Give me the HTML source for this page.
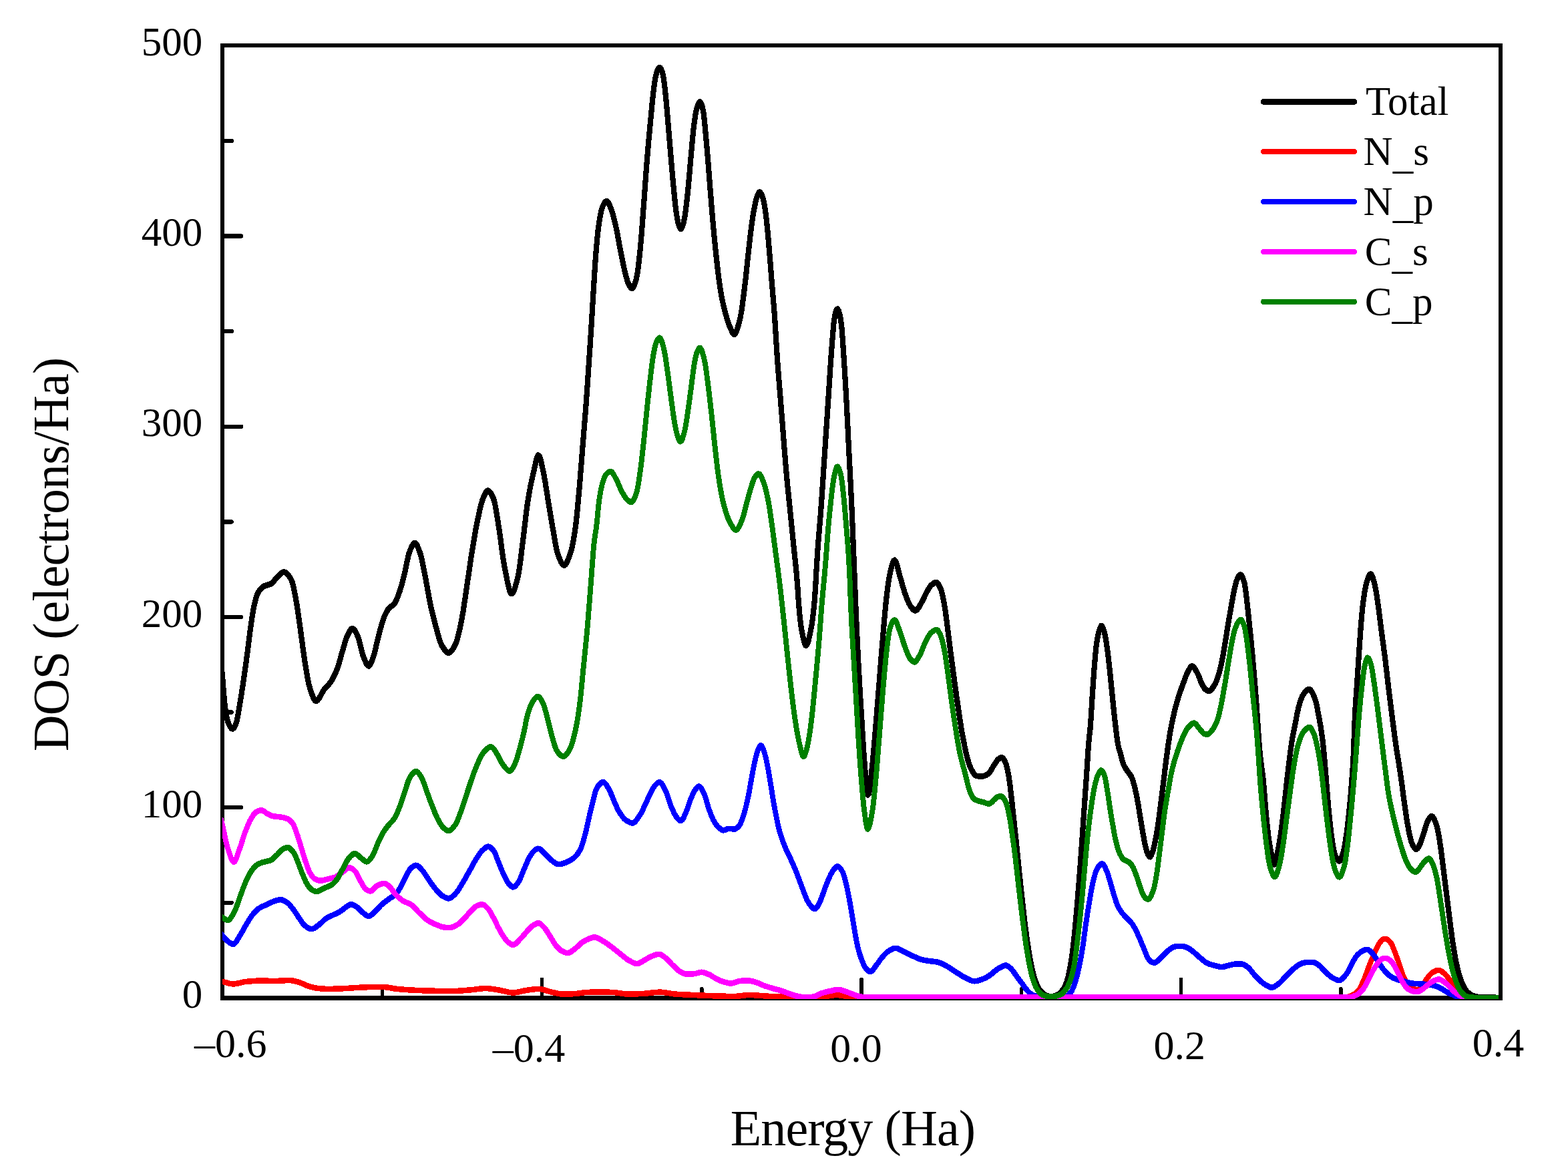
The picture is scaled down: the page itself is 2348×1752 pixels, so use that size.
<!DOCTYPE html>
<html lang="en"><head><meta charset="utf-8"><title>DOS (electrons/Ha) vs Energy (Ha)</title>
<style>
html,body{margin:0;padding:0;background:#fff;}
body{width:2348px;height:1752px;overflow:hidden;}
svg{display:block;}
text{font-family:"Liberation Serif","Times New Roman",Times,serif;fill:#000;}
.tk{font-size:61px;}
.tx{font-size:62px;}
.lg{font-size:61px;}
.ax{font-size:76px;}
</style></head><body>
<svg shape-rendering="crispEdges" width="2348" height="1752" viewBox="0 0 2348 1752" role="img" aria-label="Density of states versus energy">
<rect x="0" y="0" width="2348" height="1752" fill="#fff"/>
<g fill="none" stroke="#000" stroke-linecap="butt">
<path stroke-width="5.9" d="M333.05,65.10 V1497.70 M2247.10,65.10 V1497.70"/>
<path stroke-width="6.0" d="M330.10,68.00 H2250.05"/>
<path stroke-width="6.7" d="M330.10,1494.35 H2250.05"/>
</g>
<g fill="none" stroke="#000" stroke-linecap="round">
<path stroke-width="6.4" d="M333.05,1351.74 H346.65 M333.05,1209.14 H361.05 M333.05,1066.53 H346.65 M333.05,923.93 H361.05 M333.05,781.32 H346.65 M333.05,638.72 H361.05 M333.05,496.12 H346.65 M333.05,353.51 H361.05 M333.05,210.90 H346.65"/>
<path stroke-width="5.6" d="M572.31,1494.35 V1480.85 M811.56,1494.35 V1466.35 M1050.82,1494.35 V1480.85 M1290.08,1494.35 V1466.35 M1529.33,1494.35 V1480.85 M1768.59,1494.35 V1466.35 M2007.84,1494.35 V1480.85"/>
</g>
<clipPath id="plot"><rect x="333.00" y="65.00" width="1911.00" height="1431.00"/></clipPath>
<g clip-path="url(#plot)"><g fill="none" stroke-linejoin="round" stroke-linecap="butt" transform="scale(1,1.080)">
<path stroke="#000000" stroke-width="8.2" d="M330.4,911.80 331.9,925.59 333.4,941.90 334.9,959.52 336.4,975.31 337.9,986.05 339.4,993.68 340.9,999.65 342.4,1003.70 343.9,1006.37 345.3,1008.54 346.7,1010.02 348.2,1010.52 349.8,1009.70 351.4,1007.61 352.9,1004.59 354.4,1000.74 355.9,994.07 357.4,985.64 358.9,977.52 360.4,969.14 361.9,960.37 363.4,951.26 364.9,941.85 366.4,932.19 367.9,922.30 369.4,912.20 370.9,901.57 372.4,890.51 373.9,879.60 375.4,869.34 376.9,859.46 378.4,850.15 379.9,842.49 381.4,836.27 382.9,830.76 384.4,826.14 385.9,822.70 387.4,820.26 388.8,818.21 390.3,816.47 391.8,815.04 393.2,813.90 394.7,813.04 396.2,812.38 397.6,811.86 399.1,811.43 400.6,811.05 402.1,810.65 403.6,810.18 405.2,809.60 406.7,808.83 408.3,807.65 409.8,806.08 411.3,804.32 412.8,802.58 414.3,801.05 415.8,799.72 417.3,798.34 418.8,796.96 420.3,795.66 421.7,794.55 423.2,793.71 424.6,793.25 426.1,793.25 427.7,793.78 429.3,794.79 430.8,796.23 432.3,798.04 433.9,800.16 435.4,802.52 436.9,805.24 438.4,809.45 439.9,815.38 441.4,822.39 442.9,829.86 444.4,837.74 445.9,846.72 447.4,856.51 448.9,866.59 450.4,876.54 451.9,886.73 453.4,897.22 454.9,907.49 456.4,917.00 457.9,925.59 459.4,933.91 460.9,941.66 462.4,948.34 463.9,953.51 465.4,957.83 466.9,961.94 468.4,965.64 469.9,968.69 471.3,970.85 472.7,971.89 474.2,971.72 475.8,970.64 477.3,968.87 478.9,966.61 480.4,964.06 481.9,961.42 483.4,958.89 484.9,956.67 486.3,954.87 487.8,953.31 489.3,951.85 490.8,950.41 492.3,948.90 493.8,947.22 495.4,945.29 496.9,943.10 498.4,940.67 499.9,938.00 501.4,935.09 502.9,931.96 504.4,928.60 505.9,924.81 507.4,920.40 508.9,915.58 510.4,910.60 511.9,905.70 513.4,901.01 514.9,896.14 516.4,891.25 517.9,886.79 519.4,883.15 520.9,880.18 522.4,877.33 523.9,874.77 525.3,872.77 526.7,871.60 528.2,871.48 529.8,872.45 531.3,874.28 532.9,876.73 534.4,879.56 535.9,882.57 537.4,886.46 538.9,891.75 540.4,897.70 541.9,903.54 543.4,908.45 544.9,912.10 546.4,915.45 547.9,918.59 549.3,921.19 550.8,922.94 552.2,923.50 553.8,922.41 555.4,919.78 556.9,916.20 558.4,912.25 559.9,908.15 561.4,903.13 562.9,897.33 564.4,891.20 565.9,885.20 567.4,879.76 568.9,874.62 570.4,869.50 571.9,864.60 573.4,860.10 574.9,856.21 576.4,852.95 577.9,850.04 579.4,847.45 580.9,845.24 582.3,843.45 583.8,842.11 585.3,841.08 586.8,840.15 588.3,839.13 589.8,837.81 591.4,835.95 592.9,833.38 594.4,830.22 595.9,826.63 597.4,822.78 598.9,818.79 600.4,814.38 601.9,809.46 603.4,804.20 604.9,798.77 606.4,792.99 607.9,786.40 609.4,779.49 610.9,772.94 612.4,767.43 613.9,763.47 615.4,760.25 616.9,757.32 618.3,754.92 619.7,753.35 621.2,752.90 622.8,753.80 624.4,755.90 625.9,758.88 627.4,762.40 628.9,766.18 630.4,770.66 631.9,776.53 633.4,783.37 634.9,790.67 636.4,797.90 637.9,805.06 639.4,812.64 640.9,820.42 642.4,828.09 643.9,835.32 645.4,841.87 646.9,847.95 648.4,853.73 649.9,859.23 651.4,864.47 652.9,869.49 654.4,874.50 655.9,879.58 657.4,884.50 658.9,888.96 660.4,892.67 661.9,895.41 663.4,897.59 664.9,899.64 666.3,901.49 667.8,903.05 669.2,904.24 670.7,904.97 672.1,905.15 673.7,904.62 675.3,903.42 676.8,901.66 678.4,899.47 679.9,896.95 681.4,894.24 682.9,891.25 684.4,887.29 685.9,882.32 687.4,876.56 688.9,870.23 690.4,863.56 691.9,856.54 693.4,848.51 694.9,839.56 696.4,830.08 697.9,820.44 699.4,811.00 700.9,801.72 702.4,792.23 703.9,782.70 705.4,773.33 706.9,764.32 708.4,755.80 709.9,747.53 711.4,739.48 712.9,731.79 714.4,724.58 715.9,717.93 717.4,711.52 718.9,705.30 720.4,699.58 721.9,694.69 723.4,690.90 724.9,687.73 726.4,684.78 727.8,682.34 729.2,680.74 730.7,680.26 732.2,680.87 733.8,682.33 735.4,684.47 736.9,687.11 738.4,690.10 739.9,693.97 741.4,699.88 742.9,707.44 744.4,715.99 745.9,724.86 747.4,733.61 748.9,743.20 750.4,753.72 751.9,764.36 753.4,774.32 754.9,782.80 756.4,790.11 757.9,797.46 759.4,804.62 760.9,811.16 762.4,816.66 763.8,820.71 765.3,822.87 766.8,822.90 768.3,821.22 769.9,818.19 771.4,814.10 772.9,809.25 774.4,803.92 775.9,798.21 777.4,790.68 778.9,780.96 780.4,769.84 781.9,758.18 783.4,746.81 784.9,735.67 786.4,723.90 787.9,712.12 789.4,701.19 790.9,691.86 792.4,683.76 793.9,676.33 795.4,669.48 796.9,663.12 798.4,657.13 799.9,651.05 801.4,644.54 802.9,638.42 804.4,633.64 805.8,631.13 807.3,631.66 808.9,635.01 810.4,640.35 811.9,646.81 813.4,653.54 814.9,660.29 816.4,668.13 817.9,676.83 819.4,685.78 820.9,694.45 822.4,702.93 823.9,711.49 825.4,719.94 826.9,728.05 828.4,735.86 829.9,743.89 831.4,751.85 832.9,759.19 834.4,765.35 835.9,769.87 837.4,773.43 838.9,776.73 840.4,779.62 841.8,781.90 843.2,783.37 844.7,783.84 846.3,783.14 847.8,781.36 849.4,778.69 850.9,775.33 852.4,771.49 853.9,767.36 855.4,762.96 856.9,757.46 858.4,750.61 859.9,742.58 861.4,733.53 862.9,722.68 864.4,709.18 865.9,694.08 867.4,678.45 868.9,661.82 870.4,644.14 871.9,626.25 873.4,608.89 874.9,591.94 876.4,574.77 877.9,556.69 879.4,537.15 880.9,516.52 882.4,495.78 883.9,475.23 885.4,453.87 886.9,430.64 888.4,407.03 889.9,384.77 891.4,363.48 892.9,345.03 894.4,329.71 895.9,316.70 897.4,306.79 898.9,298.83 900.4,292.18 901.9,287.34 903.4,284.28 904.8,281.83 906.3,279.97 907.7,278.97 909.2,279.18 910.8,280.83 912.4,283.55 913.9,286.90 915.4,290.44 916.9,294.38 918.4,299.21 919.9,304.73 921.4,310.64 922.9,316.87 924.4,323.84 925.9,331.32 927.4,338.90 928.9,346.16 930.4,353.22 931.9,360.27 933.4,367.08 934.9,373.36 936.4,379.01 937.9,384.44 939.4,389.34 940.9,393.15 942.4,395.75 943.8,397.90 945.3,399.41 946.7,399.79 948.3,398.46 949.9,395.52 951.4,391.44 952.9,386.60 954.4,379.55 955.9,369.32 957.4,357.09 958.9,343.65 960.4,327.59 961.9,309.40 963.4,290.74 964.9,272.14 966.4,252.86 967.9,233.81 969.4,216.12 970.9,199.95 972.4,184.69 973.9,169.97 975.4,155.27 976.9,140.48 978.4,127.42 979.9,116.82 981.4,107.84 982.9,101.79 984.4,97.97 985.8,95.08 987.3,93.65 988.8,94.22 990.4,96.69 991.9,100.43 993.4,106.37 994.9,116.57 996.4,128.94 997.9,143.10 999.4,159.46 1000.9,176.06 1002.4,192.76 1003.9,209.54 1005.4,225.92 1006.9,242.05 1008.4,257.36 1009.9,271.86 1011.4,285.52 1012.9,296.26 1014.4,304.33 1015.9,310.60 1017.4,314.63 1018.8,317.15 1020.3,317.08 1021.9,314.10 1023.4,309.52 1024.9,303.29 1026.4,294.19 1027.9,283.14 1029.4,271.12 1030.9,257.15 1032.4,241.28 1033.9,225.10 1035.4,209.51 1036.9,193.84 1038.4,179.90 1039.9,168.42 1041.4,158.63 1042.9,151.90 1044.4,147.27 1045.9,143.57 1047.3,141.35 1048.8,141.36 1050.4,144.03 1051.9,148.68 1053.4,155.44 1054.9,167.71 1056.4,182.53 1057.9,197.64 1059.4,213.87 1060.9,230.89 1062.4,248.89 1063.9,266.80 1065.4,284.08 1066.9,300.85 1068.4,316.56 1069.9,331.41 1071.4,345.50 1072.9,358.63 1074.4,370.78 1075.9,382.30 1077.4,392.94 1078.9,402.24 1080.4,410.18 1081.9,417.28 1083.4,423.71 1084.9,429.51 1086.4,434.77 1087.9,439.64 1089.4,444.18 1090.9,448.32 1092.4,451.99 1093.9,455.20 1095.4,458.33 1096.8,461.22 1098.3,463.17 1099.8,463.52 1101.3,462.06 1102.9,459.11 1104.4,455.02 1105.9,450.15 1107.4,444.83 1108.9,438.92 1110.4,431.00 1111.9,421.31 1113.4,410.61 1114.9,399.59 1116.4,387.83 1117.9,374.86 1119.4,361.43 1120.9,348.35 1122.4,336.14 1123.9,324.17 1125.4,312.79 1126.9,302.82 1128.4,294.27 1129.9,286.51 1131.4,279.98 1132.9,275.08 1134.4,271.03 1135.8,267.80 1137.3,266.35 1138.8,267.12 1140.4,269.64 1141.9,273.39 1143.4,277.95 1144.9,284.61 1146.4,294.40 1147.9,305.84 1149.4,319.51 1150.9,335.16 1152.4,351.61 1153.9,369.27 1155.4,387.14 1156.9,403.86 1158.4,419.98 1159.9,437.69 1161.4,459.05 1162.9,482.10 1164.4,502.81 1165.9,520.75 1167.4,537.83 1168.9,555.28 1170.4,572.90 1171.9,590.48 1173.4,608.22 1174.9,626.13 1176.4,643.44 1177.9,659.40 1179.4,673.86 1180.9,687.48 1182.4,700.95 1183.9,714.75 1185.4,728.64 1186.9,742.53 1188.4,756.38 1189.9,769.71 1191.4,782.75 1192.9,796.83 1194.4,814.06 1195.9,835.56 1197.4,852.04 1198.9,864.26 1200.4,873.55 1201.9,880.67 1203.4,887.08 1204.9,892.12 1206.3,894.87 1207.8,894.66 1209.4,891.88 1210.9,887.21 1212.4,881.29 1213.9,874.73 1215.4,867.30 1216.9,857.60 1218.4,845.51 1219.9,830.80 1221.4,809.74 1222.9,784.66 1224.4,763.11 1225.9,745.44 1227.4,728.94 1228.9,711.72 1230.4,692.46 1231.9,671.71 1233.4,650.34 1234.9,629.19 1236.4,608.34 1237.9,587.50 1239.4,566.67 1240.9,545.59 1242.4,523.75 1243.9,502.32 1245.4,482.90 1246.9,465.15 1248.4,449.18 1249.9,438.89 1251.4,432.87 1252.8,429.01 1254.3,428.44 1255.9,431.05 1257.4,436.03 1258.9,442.69 1260.4,453.66 1261.9,472.03 1263.4,492.83 1264.9,514.39 1266.4,538.03 1267.9,563.28 1269.4,590.67 1270.9,619.09 1272.4,646.69 1273.9,673.66 1275.4,702.46 1276.9,735.64 1278.4,771.02 1279.9,806.13 1281.4,840.54 1282.9,872.11 1284.4,900.96 1285.9,927.81 1287.4,952.81 1288.9,976.10 1290.4,998.50 1291.9,1021.19 1293.4,1043.21 1294.9,1061.77 1296.4,1078.83 1297.9,1093.82 1299.4,1102.17 1300.9,1101.05 1302.4,1093.02 1303.9,1081.14 1305.4,1068.17 1306.9,1055.04 1308.4,1039.87 1309.9,1023.25 1311.4,1006.28 1312.9,989.42 1314.4,972.09 1315.9,954.51 1317.4,936.98 1318.9,919.29 1320.4,901.54 1321.9,884.38 1323.4,868.19 1324.9,852.44 1326.4,837.72 1327.9,825.00 1329.4,813.96 1330.9,804.18 1332.4,796.40 1333.9,790.44 1335.4,785.01 1336.9,780.47 1338.3,777.48 1339.8,776.72 1341.3,778.56 1342.9,782.46 1344.4,787.61 1345.9,793.20 1347.4,798.41 1348.9,803.08 1350.4,807.93 1351.9,812.87 1353.4,817.67 1354.9,822.08 1356.4,825.94 1357.9,829.55 1359.4,832.99 1360.9,836.13 1362.4,838.83 1363.9,840.96 1365.3,842.69 1366.8,844.29 1368.2,845.60 1369.7,846.42 1371.2,846.54 1372.7,845.76 1374.3,844.19 1375.9,842.06 1377.4,839.62 1378.9,837.09 1380.4,834.67 1381.9,832.14 1383.4,829.27 1384.9,826.27 1386.4,823.32 1387.9,820.64 1389.4,818.28 1390.9,816.00 1392.3,813.89 1393.8,812.09 1395.3,810.76 1396.7,809.71 1398.2,808.77 1399.7,808.03 1401.1,807.61 1402.7,807.76 1404.3,808.97 1405.9,811.10 1407.4,813.87 1408.9,817.04 1410.4,821.35 1411.9,827.42 1413.4,834.65 1414.9,842.71 1416.4,852.48 1417.9,863.31 1419.4,874.21 1420.9,885.43 1422.4,896.54 1423.9,907.17 1425.4,917.53 1426.9,927.88 1428.4,938.39 1429.9,948.88 1431.4,959.06 1432.9,968.80 1434.4,978.28 1435.9,987.70 1437.4,997.24 1438.9,1006.48 1440.4,1014.84 1441.9,1022.41 1443.4,1029.53 1444.9,1036.52 1446.4,1043.27 1447.9,1049.04 1449.4,1053.90 1450.9,1058.34 1452.4,1062.29 1453.9,1065.64 1455.4,1068.30 1456.9,1070.60 1458.3,1072.69 1459.8,1074.36 1461.2,1075.40 1462.6,1075.79 1464.1,1076.01 1465.5,1076.18 1467.0,1076.30 1468.5,1076.38 1470.0,1076.39 1471.6,1076.26 1473.1,1075.94 1474.6,1075.46 1476.2,1074.84 1477.7,1074.12 1479.2,1073.32 1480.8,1072.19 1482.3,1070.40 1483.9,1068.14 1485.4,1065.68 1486.9,1063.28 1488.4,1061.12 1489.9,1058.94 1491.4,1056.75 1492.8,1054.77 1494.3,1053.24 1495.8,1052.12 1497.2,1051.14 1498.7,1050.44 1500.2,1050.28 1501.8,1051.17 1503.3,1053.17 1504.9,1055.95 1506.4,1059.22 1507.9,1063.78 1509.4,1070.31 1510.9,1078.22 1512.4,1087.91 1513.9,1100.08 1515.4,1112.71 1516.9,1125.55 1518.4,1138.59 1519.9,1151.49 1521.4,1164.37 1522.9,1177.58 1524.4,1191.41 1525.9,1205.44 1527.4,1219.03 1528.9,1232.17 1530.4,1244.97 1531.9,1257.48 1533.4,1269.73 1534.9,1281.33 1536.4,1292.19 1537.9,1302.39 1539.4,1311.77 1540.9,1320.53 1542.4,1328.69 1543.9,1336.05 1545.4,1342.61 1546.9,1348.65 1548.4,1354.00 1549.9,1358.44 1551.4,1362.24 1552.9,1365.64 1554.4,1368.58 1555.9,1371.02 1557.3,1372.97 1558.8,1374.70 1560.3,1376.24 1561.8,1377.56 1563.2,1378.64 1564.7,1379.45 1566.2,1380.08 1567.6,1380.66 1569.1,1381.17 1570.6,1381.59 1572.1,1381.87 1573.5,1382.00 1575.1,1381.95 1576.6,1381.72 1578.1,1381.34 1579.6,1380.84 1581.2,1380.27 1582.7,1379.64 1584.2,1378.92 1585.8,1377.96 1587.3,1376.77 1588.8,1375.37 1590.3,1373.77 1591.9,1371.99 1593.4,1369.83 1594.9,1367.10 1596.4,1363.80 1597.9,1359.90 1599.4,1354.92 1600.9,1348.72 1602.4,1341.56 1603.9,1333.43 1605.4,1323.64 1606.9,1312.50 1608.4,1300.09 1609.9,1286.13 1611.4,1271.19 1612.9,1255.24 1614.4,1238.29 1615.9,1220.75 1617.4,1202.58 1618.9,1183.72 1620.4,1164.06 1621.9,1143.57 1623.4,1123.07 1624.9,1103.17 1626.4,1083.43 1627.9,1062.68 1629.4,1040.35 1630.9,1023.54 1632.4,1011.82 1633.9,992.48 1635.4,969.36 1636.9,948.19 1638.4,928.48 1639.9,911.63 1641.4,897.27 1642.9,887.22 1644.4,880.25 1645.9,875.05 1647.4,870.65 1648.8,867.76 1650.3,868.10 1651.9,871.10 1653.4,875.54 1654.9,881.12 1656.4,889.18 1657.9,898.80 1659.4,909.52 1660.9,921.77 1662.4,934.71 1663.9,948.42 1665.4,962.57 1666.9,976.27 1668.4,989.67 1669.9,1002.31 1671.4,1013.98 1672.9,1024.89 1674.4,1033.43 1675.9,1039.05 1677.4,1043.53 1678.9,1048.46 1680.4,1053.84 1681.9,1058.61 1683.4,1061.97 1684.9,1064.47 1686.4,1066.58 1687.9,1068.52 1689.4,1070.53 1690.9,1072.48 1692.4,1074.33 1693.9,1076.45 1695.4,1079.34 1696.9,1083.55 1698.4,1088.69 1699.9,1094.30 1701.4,1100.65 1702.9,1107.65 1704.4,1115.45 1705.9,1123.97 1707.4,1132.50 1708.9,1140.96 1710.4,1149.30 1711.9,1157.35 1713.4,1165.32 1714.9,1172.26 1716.4,1177.66 1717.9,1182.12 1719.4,1185.27 1720.8,1187.36 1722.3,1187.99 1723.8,1186.07 1725.4,1182.46 1726.9,1178.23 1728.4,1172.76 1729.9,1166.24 1731.4,1159.00 1732.9,1150.64 1734.4,1141.41 1735.9,1131.27 1737.4,1120.51 1738.9,1109.57 1740.4,1098.37 1741.9,1086.98 1743.4,1075.63 1744.9,1064.15 1746.4,1052.91 1747.9,1042.42 1749.4,1032.47 1750.9,1023.05 1752.4,1014.53 1753.9,1007.02 1755.4,1000.13 1756.9,993.74 1758.4,987.77 1759.9,982.16 1761.4,976.88 1762.9,971.97 1764.4,967.41 1765.9,963.09 1767.4,958.91 1768.9,954.90 1770.4,951.03 1771.9,947.28 1773.4,943.58 1774.9,939.79 1776.4,936.11 1777.9,932.93 1779.4,930.34 1780.9,927.86 1782.3,925.66 1783.7,924.13 1785.2,923.59 1786.7,924.22 1788.3,925.79 1789.9,927.99 1791.4,930.50 1792.9,933.04 1794.4,935.95 1795.9,939.49 1797.4,943.19 1798.9,946.58 1800.4,949.33 1801.9,951.80 1803.3,953.96 1804.8,955.53 1806.2,956.56 1807.7,957.40 1809.1,957.96 1810.6,958.09 1812.2,957.52 1813.8,956.25 1815.3,954.46 1816.9,952.34 1818.4,950.09 1819.9,947.62 1821.4,944.53 1822.9,940.86 1824.4,936.72 1825.9,932.14 1827.4,926.72 1828.9,920.41 1830.4,913.53 1831.9,906.17 1833.4,898.00 1834.9,889.36 1836.4,880.77 1837.9,872.35 1839.4,863.92 1840.9,855.60 1842.4,847.52 1843.9,839.54 1845.4,831.76 1846.9,824.47 1848.4,817.57 1849.9,811.01 1851.4,806.06 1852.9,802.63 1854.4,799.71 1855.8,797.62 1857.2,796.78 1858.8,797.58 1860.4,799.92 1861.9,803.41 1863.4,807.95 1864.9,816.09 1866.4,827.14 1867.9,838.98 1869.4,852.10 1870.9,865.59 1872.4,879.16 1873.9,893.20 1875.4,907.93 1876.9,923.37 1878.4,939.62 1879.9,956.88 1881.4,975.51 1882.9,996.18 1884.4,1016.75 1885.9,1035.70 1887.4,1050.69 1888.9,1061.43 1890.4,1071.19 1891.9,1083.39 1893.4,1100.13 1894.9,1117.79 1896.4,1133.31 1897.9,1147.40 1899.4,1159.07 1900.9,1168.78 1902.4,1177.02 1903.9,1183.99 1905.4,1190.74 1906.9,1196.28 1908.3,1198.75 1909.9,1196.42 1911.4,1190.19 1912.9,1182.81 1914.4,1175.62 1915.9,1167.67 1917.4,1158.88 1918.9,1149.26 1920.4,1138.30 1921.9,1126.23 1923.4,1113.80 1924.9,1101.40 1926.4,1088.62 1927.9,1075.89 1929.4,1063.85 1930.9,1052.47 1932.4,1041.52 1933.9,1031.49 1935.4,1022.88 1936.9,1015.69 1938.4,1009.05 1939.9,1002.01 1941.4,994.52 1942.9,987.36 1944.4,981.33 1945.9,976.35 1947.4,971.82 1948.9,967.89 1950.4,964.78 1951.9,962.54 1953.3,960.62 1954.8,958.87 1956.3,957.40 1957.7,956.30 1959.2,955.68 1960.7,955.70 1962.3,956.63 1963.8,958.41 1965.4,960.87 1966.9,963.82 1968.4,967.08 1969.9,971.02 1971.4,976.72 1972.9,983.64 1974.4,990.91 1975.9,998.23 1977.4,1006.10 1978.9,1014.93 1980.4,1025.29 1981.9,1038.03 1983.4,1052.58 1984.9,1068.96 1986.4,1086.76 1987.9,1103.79 1989.4,1120.12 1990.9,1134.72 1992.4,1147.89 1993.9,1159.35 1995.4,1168.67 1996.9,1176.90 1998.4,1183.41 1999.9,1187.35 2001.4,1190.00 2002.8,1192.12 2004.2,1193.51 2005.7,1193.88 2007.3,1192.45 2008.9,1189.20 2010.4,1184.88 2011.9,1180.00 2013.4,1173.54 2014.9,1165.35 2016.4,1156.09 2017.9,1145.47 2019.4,1133.08 2020.9,1119.36 2022.4,1104.19 2023.9,1087.07 2025.4,1068.01 2026.9,1044.01 2028.4,1002.68 2029.9,975.95 2031.4,957.12 2032.9,936.28 2034.4,914.75 2035.9,893.95 2037.4,873.58 2038.9,855.93 2040.4,842.00 2041.9,830.47 2043.4,821.22 2044.9,813.52 2046.4,807.71 2047.9,803.46 2049.4,799.75 2050.8,797.01 2052.3,795.82 2053.8,796.87 2055.4,800.13 2056.9,804.75 2058.4,809.91 2059.9,816.33 2061.4,824.51 2062.9,833.63 2064.4,843.35 2065.9,854.27 2067.4,865.72 2068.9,876.74 2070.4,887.14 2071.9,897.35 2073.4,907.82 2074.9,918.93 2076.4,930.72 2077.9,942.76 2079.4,954.57 2080.9,965.97 2082.4,977.16 2083.9,988.17 2085.4,998.99 2086.9,1009.72 2088.4,1020.25 2089.9,1030.36 2091.4,1039.82 2092.9,1048.62 2094.4,1057.13 2095.9,1065.74 2097.4,1074.88 2098.9,1084.92 2100.4,1095.59 2101.9,1106.21 2103.4,1116.22 2104.9,1125.92 2106.4,1135.22 2107.9,1143.58 2109.4,1150.95 2110.9,1157.91 2112.4,1163.94 2113.9,1168.34 2115.4,1171.35 2116.9,1173.95 2118.3,1176.01 2119.7,1177.28 2121.2,1177.45 2122.8,1176.22 2124.4,1173.88 2125.9,1171.00 2127.4,1167.94 2128.9,1164.16 2130.4,1159.73 2131.9,1155.23 2133.4,1150.81 2134.9,1146.16 2136.4,1141.86 2137.9,1138.61 2139.4,1136.09 2140.8,1133.86 2142.3,1132.28 2143.7,1131.73 2145.3,1132.55 2146.9,1134.61 2148.4,1137.49 2149.9,1140.82 2151.4,1145.08 2152.9,1150.99 2154.4,1158.10 2155.9,1166.03 2157.4,1175.63 2158.9,1186.43 2160.4,1197.28 2161.9,1208.39 2163.4,1219.62 2164.9,1230.75 2166.4,1241.86 2167.9,1252.98 2169.4,1264.20 2170.9,1275.35 2172.4,1286.16 2173.9,1296.75 2175.4,1306.69 2176.9,1315.54 2178.4,1323.74 2179.9,1331.22 2181.4,1337.83 2182.9,1343.78 2184.4,1349.31 2185.9,1354.28 2187.4,1358.56 2188.9,1362.10 2190.4,1365.27 2191.9,1368.13 2193.4,1370.65 2194.8,1372.77 2196.3,1374.45 2197.8,1375.85 2199.3,1377.11 2200.8,1378.22 2202.2,1379.19 2203.7,1379.98 2205.1,1380.59 2206.6,1381.04 2208.1,1381.44 2209.6,1381.80 2211.1,1382.12 2212.6,1382.38 2214.0,1382.59 2215.5,1382.72 2217.0,1382.80 2218.5,1382.85 2220.0,1382.90 2221.5,1382.95 2223.0,1382.99 2224.5,1383.03 2226.0,1383.07 2227.5,1383.10 2229.0,1383.13 2230.5,1383.16 2232.0,1383.19 2233.5,1383.21 2235.0,1383.23 2236.5,1383.24 2238.0,1383.26 2239.5,1383.27 2241.0,1383.27 2242.5,1383.28 2244.0,1383.28"/>
<path stroke="#ff0000" stroke-width="7.9" d="M330.1,1360.49 331.6,1360.75 333.1,1361.05 334.6,1361.36 336.1,1361.72 337.6,1362.11 339.1,1362.50 340.6,1362.89 342.1,1363.26 343.6,1363.59 345.1,1363.86 346.5,1364.07 348.0,1364.19 349.5,1364.21 351.0,1364.14 352.6,1363.99 354.1,1363.77 355.6,1363.50 357.1,1363.20 358.6,1362.87 360.1,1362.53 361.6,1362.20 363.1,1361.88 364.6,1361.59 366.1,1361.34 367.5,1361.15 369.0,1361.01 370.5,1360.88 372.0,1360.76 373.5,1360.63 375.0,1360.51 376.5,1360.40 378.0,1360.29 379.5,1360.19 381.0,1360.10 382.5,1360.02 384.0,1359.96 385.5,1359.90 387.0,1359.86 388.5,1359.84 390.0,1359.83 391.5,1359.83 393.0,1359.84 394.5,1359.86 396.0,1359.88 397.5,1359.90 399.0,1359.93 400.5,1359.95 402.0,1359.98 403.5,1360.00 405.0,1360.03 406.5,1360.05 408.0,1360.06 409.5,1360.08 411.0,1360.08 412.5,1360.08 414.0,1360.06 415.5,1360.02 417.0,1359.97 418.5,1359.90 420.0,1359.83 421.5,1359.76 423.0,1359.68 424.5,1359.60 426.0,1359.53 427.5,1359.46 429.0,1359.41 430.5,1359.36 432.0,1359.34 433.5,1359.33 435.0,1359.38 436.5,1359.52 438.1,1359.74 439.6,1360.01 441.1,1360.33 442.6,1360.69 444.1,1361.07 445.6,1361.45 447.1,1361.83 448.6,1362.25 450.1,1362.76 451.7,1363.32 453.2,1363.93 454.7,1364.56 456.2,1365.19 457.7,1365.79 459.1,1366.35 460.6,1366.84 462.1,1367.28 463.6,1367.73 465.1,1368.17 466.6,1368.59 468.1,1368.99 469.6,1369.35 471.1,1369.67 472.6,1369.93 474.1,1370.13 475.5,1370.29 477.0,1370.43 478.5,1370.57 480.0,1370.69 481.5,1370.81 483.0,1370.91 484.5,1371.00 486.0,1371.07 487.5,1371.13 489.0,1371.16 490.5,1371.18 492.0,1371.17 493.5,1371.16 495.0,1371.15 496.5,1371.13 498.0,1371.10 499.5,1371.07 501.0,1371.03 502.5,1370.99 504.0,1370.95 505.5,1370.90 507.0,1370.85 508.5,1370.80 510.0,1370.75 511.5,1370.70 513.0,1370.65 514.5,1370.59 516.0,1370.52 517.5,1370.44 519.0,1370.35 520.5,1370.26 522.0,1370.16 523.5,1370.06 525.0,1369.96 526.5,1369.86 528.0,1369.76 529.5,1369.66 531.0,1369.57 532.5,1369.49 534.0,1369.42 535.5,1369.35 537.0,1369.29 538.5,1369.22 540.0,1369.14 541.5,1369.07 543.0,1369.01 544.5,1368.94 546.0,1368.88 547.5,1368.82 549.0,1368.77 550.5,1368.73 552.0,1368.70 553.5,1368.67 555.0,1368.66 556.5,1368.66 558.0,1368.66 559.5,1368.66 561.0,1368.66 562.5,1368.66 564.0,1368.66 565.5,1368.66 567.0,1368.66 568.5,1368.66 570.0,1368.66 571.5,1368.66 573.0,1368.66 574.5,1368.66 576.0,1368.67 577.5,1368.75 579.0,1368.88 580.6,1369.06 582.1,1369.27 583.6,1369.51 585.1,1369.77 586.6,1370.04 588.1,1370.31 589.6,1370.56 591.1,1370.80 592.6,1371.00 594.0,1371.16 595.5,1371.30 597.0,1371.43 598.5,1371.56 600.0,1371.68 601.5,1371.80 603.0,1371.91 604.5,1372.01 606.0,1372.12 607.5,1372.22 609.0,1372.31 610.5,1372.40 612.0,1372.49 613.5,1372.57 615.0,1372.65 616.5,1372.72 618.0,1372.79 619.5,1372.86 621.0,1372.93 622.5,1373.00 624.0,1373.06 625.5,1373.13 627.0,1373.19 628.5,1373.25 630.0,1373.30 631.5,1373.36 633.0,1373.41 634.5,1373.46 636.0,1373.51 637.5,1373.55 639.0,1373.60 640.5,1373.64 642.0,1373.67 643.5,1373.71 645.0,1373.74 646.5,1373.77 648.0,1373.81 649.5,1373.84 651.0,1373.87 652.5,1373.90 654.0,1373.94 655.5,1373.97 657.0,1374.00 658.5,1374.02 660.0,1374.05 661.5,1374.08 663.0,1374.10 664.5,1374.12 666.0,1374.14 667.5,1374.16 669.0,1374.17 670.5,1374.18 672.0,1374.19 673.5,1374.20 675.0,1374.20 676.5,1374.20 678.0,1374.19 679.5,1374.16 681.0,1374.11 682.5,1374.06 684.0,1373.99 685.5,1373.92 687.0,1373.84 688.5,1373.74 690.0,1373.65 691.5,1373.54 693.0,1373.43 694.5,1373.32 696.0,1373.21 697.5,1373.10 699.0,1372.98 700.5,1372.87 702.0,1372.76 703.5,1372.66 705.0,1372.53 706.5,1372.39 708.0,1372.23 709.5,1372.06 711.1,1371.88 712.6,1371.70 714.1,1371.51 715.6,1371.33 717.0,1371.15 718.5,1370.99 720.0,1370.84 721.5,1370.70 723.0,1370.59 724.5,1370.51 726.0,1370.46 727.5,1370.44 729.0,1370.46 730.5,1370.53 732.0,1370.64 733.5,1370.78 735.1,1370.96 736.6,1371.15 738.1,1371.37 739.6,1371.60 741.1,1371.83 742.6,1372.07 744.1,1372.30 745.6,1372.53 747.1,1372.75 748.6,1372.98 750.1,1373.26 751.6,1373.56 753.1,1373.88 754.6,1374.21 756.1,1374.55 757.6,1374.88 759.1,1375.19 760.6,1375.48 762.1,1375.75 763.6,1375.97 765.0,1376.14 766.5,1376.26 768.0,1376.32 769.5,1376.30 771.0,1376.20 772.6,1376.04 774.1,1375.82 775.6,1375.56 777.1,1375.26 778.6,1374.94 780.1,1374.61 781.6,1374.28 783.1,1373.97 784.6,1373.67 786.1,1373.41 787.6,1373.19 789.1,1372.99 790.6,1372.78 792.1,1372.57 793.6,1372.36 795.1,1372.15 796.6,1371.95 798.1,1371.77 799.5,1371.60 801.0,1371.46 802.5,1371.34 804.0,1371.25 805.5,1371.21 807.0,1371.20 808.5,1371.29 810.1,1371.46 811.6,1371.71 813.1,1372.03 814.6,1372.40 816.1,1372.81 817.6,1373.25 819.1,1373.70 820.6,1374.15 822.1,1374.60 823.6,1375.02 825.1,1375.40 826.6,1375.73 828.1,1376.02 829.6,1376.32 831.1,1376.62 832.6,1376.93 834.1,1377.24 835.6,1377.53 837.1,1377.79 838.6,1378.02 840.0,1378.20 841.5,1378.33 843.0,1378.39 844.5,1378.40 846.0,1378.38 847.5,1378.36 849.0,1378.33 850.5,1378.28 852.0,1378.23 853.5,1378.18 855.0,1378.12 856.5,1378.05 858.0,1377.98 859.5,1377.91 861.0,1377.83 862.5,1377.71 864.0,1377.57 865.6,1377.39 867.1,1377.20 868.6,1377.00 870.1,1376.80 871.6,1376.60 873.1,1376.41 874.5,1376.23 876.0,1376.08 877.5,1375.96 879.0,1375.88 880.5,1375.81 882.0,1375.75 883.5,1375.69 885.0,1375.64 886.5,1375.59 888.0,1375.54 889.5,1375.50 891.0,1375.46 892.5,1375.43 894.0,1375.40 895.5,1375.39 897.0,1375.38 898.5,1375.37 900.0,1375.38 901.5,1375.40 903.0,1375.42 904.5,1375.45 906.0,1375.48 907.5,1375.53 909.0,1375.57 910.5,1375.62 912.0,1375.68 913.5,1375.73 915.0,1375.79 916.5,1375.85 918.0,1375.92 919.5,1376.03 921.0,1376.16 922.5,1376.33 924.1,1376.51 925.6,1376.71 927.1,1376.92 928.6,1377.14 930.1,1377.36 931.6,1377.57 933.1,1377.76 934.5,1377.94 936.0,1378.10 937.5,1378.23 939.0,1378.33 940.5,1378.38 942.0,1378.40 943.5,1378.39 945.0,1378.37 946.5,1378.34 948.0,1378.31 949.5,1378.26 951.0,1378.21 952.5,1378.15 954.0,1378.09 955.5,1378.02 957.0,1377.95 958.5,1377.88 960.0,1377.81 961.5,1377.74 963.0,1377.66 964.5,1377.58 966.0,1377.48 967.5,1377.35 969.0,1377.21 970.5,1377.06 972.0,1376.90 973.5,1376.73 975.0,1376.57 976.5,1376.40 978.0,1376.24 979.5,1376.10 981.0,1375.96 982.5,1375.85 984.0,1375.75 985.5,1375.69 987.0,1375.65 988.5,1375.65 990.0,1375.69 991.5,1375.77 993.0,1375.90 994.5,1376.05 996.1,1376.23 997.6,1376.43 999.1,1376.64 1000.6,1376.87 1002.1,1377.10 1003.6,1377.33 1005.1,1377.56 1006.6,1377.77 1008.1,1377.97 1009.5,1378.14 1011.0,1378.29 1012.5,1378.40 1014.0,1378.50 1015.5,1378.59 1017.0,1378.68 1018.5,1378.76 1020.0,1378.83 1021.5,1378.91 1023.0,1378.98 1024.5,1379.04 1026.0,1379.11 1027.5,1379.17 1029.0,1379.23 1030.5,1379.29 1032.0,1379.35 1033.5,1379.41 1035.0,1379.47 1036.5,1379.53 1038.0,1379.59 1039.5,1379.65 1041.0,1379.72 1042.5,1379.78 1044.0,1379.85 1045.5,1379.91 1047.0,1379.98 1048.5,1380.04 1050.0,1380.11 1051.5,1380.17 1053.0,1380.24 1054.5,1380.30 1056.0,1380.36 1057.5,1380.42 1059.0,1380.48 1060.5,1380.54 1062.0,1380.60 1063.5,1380.65 1065.0,1380.70 1066.5,1380.75 1068.0,1380.80 1069.5,1380.84 1071.0,1380.89 1072.5,1380.92 1074.0,1380.96 1075.5,1381.00 1077.0,1381.04 1078.5,1381.08 1080.0,1381.12 1081.5,1381.15 1083.0,1381.19 1084.5,1381.22 1086.0,1381.26 1087.5,1381.29 1089.0,1381.32 1090.5,1381.34 1092.0,1381.37 1093.5,1381.39 1095.0,1381.40 1096.5,1381.41 1098.0,1381.42 1099.5,1381.42 1101.0,1381.40 1102.5,1381.34 1104.0,1381.24 1105.5,1381.10 1107.0,1380.95 1108.5,1380.78 1110.1,1380.61 1111.6,1380.43 1113.0,1380.25 1114.5,1380.09 1116.0,1379.94 1117.5,1379.82 1119.0,1379.73 1120.5,1379.69 1122.0,1379.68 1123.5,1379.69 1125.0,1379.72 1126.5,1379.76 1128.0,1379.82 1129.5,1379.88 1131.0,1379.96 1132.5,1380.04 1134.0,1380.13 1135.5,1380.22 1137.0,1380.33 1138.5,1380.43 1140.0,1380.54 1141.5,1380.64 1143.0,1380.75 1144.5,1380.86 1146.0,1380.96 1147.5,1381.06 1149.0,1381.16 1150.5,1381.25 1152.0,1381.33 1153.5,1381.40 1155.0,1381.47 1156.5,1381.53 1158.0,1381.60 1159.5,1381.66 1161.0,1381.72 1162.5,1381.78 1164.0,1381.85 1165.5,1381.90 1167.0,1381.96 1168.5,1382.02 1170.0,1382.08 1171.5,1382.13 1173.0,1382.18 1174.5,1382.23 1176.0,1382.28 1177.5,1382.33 1179.0,1382.37 1180.5,1382.41 1182.0,1382.45 1183.5,1382.49 1185.0,1382.54 1186.5,1382.58 1188.0,1382.62 1189.5,1382.66 1191.0,1382.70 1192.5,1382.74 1194.0,1382.78 1195.5,1382.81 1197.0,1382.84 1198.5,1382.87 1200.0,1382.89 1201.5,1382.91 1203.0,1382.93 1204.5,1382.94 1206.0,1382.94 1207.5,1382.93 1209.0,1382.91 1210.5,1382.88 1212.0,1382.84 1213.5,1382.79 1215.0,1382.74 1216.5,1382.67 1218.0,1382.60 1219.5,1382.52 1221.0,1382.43 1222.5,1382.34 1224.0,1382.25 1225.5,1382.15 1227.0,1382.05 1228.5,1381.94 1230.0,1381.84 1231.5,1381.73 1233.0,1381.62 1234.5,1381.51 1236.0,1381.40 1237.5,1381.27 1239.1,1381.09 1240.6,1380.89 1242.1,1380.68 1243.6,1380.46 1245.1,1380.25 1246.6,1380.06 1248.0,1379.90 1249.5,1379.77 1251.0,1379.70 1252.5,1379.68 1254.0,1379.73 1255.5,1379.83 1257.0,1379.97 1258.6,1380.15 1260.1,1380.34 1261.6,1380.56 1263.1,1380.77 1264.6,1380.98 1266.1,1381.17 1267.5,1381.34 1269.0,1381.48 1270.5,1381.61 1272.0,1381.75 1273.5,1381.89 1275.0,1382.03 1276.5,1382.17 1278.0,1382.30 1279.5,1382.43 1281.0,1382.55 1282.5,1382.65 1284.0,1382.75 1285.5,1382.82 1287.0,1382.88 1288.5,1382.92 1290.0,1382.94 1291.5,1382.94 1293.0,1382.94 1294.5,1382.94 1296.0,1382.94 1297.5,1382.94 1299.0,1382.94 1300.5,1382.94 1302.0,1382.94 1303.5,1382.94 1305.0,1382.94 1306.5,1382.94 1308.0,1382.94 1309.5,1382.94 1311.0,1382.94 1312.5,1382.94 1314.0,1382.94 1315.5,1382.94 1317.0,1382.94 1318.5,1382.94 1320.0,1382.94 1321.5,1382.94 1323.0,1382.94 1324.5,1382.94 1326.0,1382.94 1327.5,1382.94 1329.0,1382.94 1330.5,1382.94 1332.0,1382.94 1333.5,1382.94 1335.0,1382.94 1336.5,1382.94 1338.0,1382.94 1339.5,1382.94 1341.0,1382.94 1342.5,1382.94 1344.0,1382.94 1345.5,1382.94 1347.0,1382.94 1348.5,1382.94 1350.0,1382.94 1351.5,1382.94 1353.0,1382.94 1354.5,1382.94 1356.0,1382.94 1357.5,1382.94 1359.0,1382.94 1360.5,1382.94 1362.0,1382.94 1363.5,1382.94 1365.0,1382.94 1366.5,1382.94 1368.0,1382.94 1369.5,1382.94 1371.0,1382.94 1372.5,1382.94 1374.0,1382.94 1375.5,1382.94 1377.0,1382.94 1378.5,1382.94 1380.0,1382.94 1381.5,1382.94 1383.0,1382.94 1384.5,1382.94 1386.0,1382.94 1387.5,1382.94 1389.0,1382.94 1390.5,1382.94 1392.0,1382.94 1393.5,1382.94 1395.0,1382.94 1396.5,1382.94 1398.0,1382.94 1399.5,1382.94 1401.0,1382.94 1402.5,1382.94 1404.0,1382.94 1405.5,1382.94 1407.0,1382.94 1408.5,1382.94 1410.0,1382.94 1411.5,1382.94 1413.0,1382.94 1414.5,1382.94 1416.0,1382.94 1417.5,1382.94 1419.0,1382.94 1420.5,1382.94 1422.0,1382.94 1423.5,1382.94 1425.0,1382.94 1426.5,1382.94 1428.0,1382.94 1429.5,1382.94 1431.0,1382.94 1432.5,1382.94 1434.0,1382.94 1435.5,1382.94 1437.0,1382.94 1438.5,1382.94 1440.0,1382.94 1441.5,1382.94 1443.0,1382.94 1444.5,1382.94 1446.0,1382.94 1447.5,1382.94 1449.0,1382.94 1450.5,1382.94 1452.0,1382.94 1453.5,1382.94 1455.0,1382.94 1456.5,1382.94 1458.0,1382.94 1459.5,1382.94 1461.0,1382.94 1462.5,1382.94 1464.0,1382.94 1465.5,1382.94 1467.0,1382.94 1468.5,1382.94 1470.0,1382.94 1471.5,1382.94 1473.0,1382.93 1474.5,1382.93 1476.0,1382.93 1477.5,1382.93 1479.0,1382.93 1480.5,1382.93 1482.0,1382.93 1483.5,1382.93 1485.0,1382.93 1486.5,1382.93 1488.0,1382.93 1489.5,1382.93 1491.0,1382.93 1492.5,1382.93 1494.0,1382.93 1495.5,1382.93 1497.0,1382.93 1498.5,1382.93 1500.0,1382.93 1501.5,1382.93 1503.0,1382.93 1504.5,1382.93 1506.0,1382.93 1507.5,1382.93 1509.0,1382.93 1510.5,1382.93 1512.0,1382.93 1513.5,1382.93 1515.0,1382.93 1516.5,1382.93 1518.0,1382.93 1519.5,1382.93 1521.0,1382.93 1522.5,1382.93 1524.0,1382.93 1525.5,1382.93 1527.0,1382.93 1528.5,1382.93 1530.0,1382.93 1531.5,1382.93 1533.0,1382.93 1534.5,1382.93 1536.0,1382.93 1537.5,1382.93 1539.0,1382.93 1540.5,1382.93 1542.0,1382.93 1543.5,1382.93 1545.0,1382.93 1546.5,1382.93 1548.0,1382.93 1549.5,1382.93 1551.0,1382.93 1552.5,1382.93 1554.0,1382.93 1555.5,1382.93 1557.0,1382.93 1558.5,1382.93 1560.0,1382.93 1561.5,1382.93 1563.0,1382.93 1564.5,1382.93 1566.0,1382.93 1567.5,1382.93 1569.0,1382.93 1570.5,1382.93 1572.0,1382.93 1573.5,1382.93 1575.0,1382.93 1576.5,1382.93 1578.0,1382.93 1579.5,1382.93 1581.0,1382.93 1582.5,1382.93 1584.0,1382.93 1585.5,1382.93 1587.0,1382.93 1588.5,1382.93 1590.0,1382.93 1591.5,1382.93 1593.0,1382.93 1594.5,1382.93 1596.0,1382.93 1597.5,1382.92 1599.0,1382.92 1600.5,1382.92 1602.0,1382.92 1603.5,1382.92 1605.0,1382.92 1606.5,1382.92 1608.0,1382.92 1609.5,1382.92 1611.0,1382.92 1612.5,1382.92 1614.0,1382.92 1615.5,1382.92 1617.0,1382.92 1618.5,1382.92 1620.0,1382.92 1621.5,1382.92 1623.0,1382.92 1624.5,1382.92 1626.0,1382.92 1627.5,1382.92 1629.0,1382.92 1630.5,1382.92 1632.0,1382.92 1633.5,1382.92 1635.0,1382.92 1636.5,1382.92 1638.0,1382.92 1639.5,1382.92 1641.0,1382.92 1642.5,1382.92 1644.0,1382.92 1645.5,1382.92 1647.0,1382.92 1648.5,1382.92 1650.0,1382.92 1651.5,1382.92 1653.0,1382.92 1654.5,1382.92 1656.0,1382.92 1657.5,1382.92 1659.0,1382.92 1660.5,1382.92 1662.0,1382.92 1663.5,1382.91 1665.0,1382.91 1666.5,1382.91 1668.0,1382.91 1669.5,1382.91 1671.0,1382.91 1672.5,1382.91 1674.0,1382.91 1675.5,1382.91 1677.0,1382.91 1678.5,1382.91 1680.0,1382.91 1681.5,1382.91 1683.0,1382.91 1684.5,1382.91 1686.0,1382.91 1687.5,1382.91 1689.0,1382.91 1690.5,1382.91 1692.0,1382.91 1693.5,1382.91 1695.0,1382.91 1696.5,1382.91 1698.0,1382.91 1699.5,1382.91 1701.0,1382.91 1702.5,1382.91 1704.0,1382.91 1705.5,1382.91 1707.0,1382.91 1708.5,1382.91 1710.0,1382.91 1711.5,1382.91 1713.0,1382.90 1714.5,1382.90 1716.0,1382.90 1717.5,1382.90 1719.0,1382.90 1720.5,1382.90 1722.0,1382.90 1723.5,1382.90 1725.0,1382.90 1726.5,1382.90 1728.0,1382.90 1729.5,1382.90 1731.0,1382.90 1732.5,1382.90 1734.0,1382.90 1735.5,1382.90 1737.0,1382.90 1738.5,1382.90 1740.0,1382.90 1741.5,1382.90 1743.0,1382.90 1744.5,1382.90 1746.0,1382.90 1747.5,1382.90 1749.0,1382.90 1750.5,1382.90 1752.0,1382.90 1753.5,1382.89 1755.0,1382.89 1756.5,1382.89 1758.0,1382.89 1759.5,1382.89 1761.0,1382.89 1762.5,1382.89 1764.0,1382.89 1765.5,1382.89 1767.0,1382.89 1768.5,1382.89 1770.0,1382.89 1771.5,1382.89 1773.0,1382.89 1774.5,1382.89 1776.0,1382.89 1777.5,1382.89 1779.0,1382.89 1780.5,1382.89 1782.0,1382.89 1783.5,1382.89 1785.0,1382.89 1786.5,1382.88 1788.0,1382.88 1789.5,1382.88 1791.0,1382.88 1792.5,1382.88 1794.0,1382.88 1795.5,1382.88 1797.0,1382.88 1798.5,1382.88 1800.0,1382.88 1801.5,1382.88 1803.0,1382.88 1804.5,1382.88 1806.0,1382.88 1807.5,1382.88 1809.0,1382.88 1810.5,1382.88 1812.0,1382.88 1813.5,1382.88 1815.0,1382.88 1816.5,1382.88 1818.0,1382.87 1819.5,1382.87 1821.0,1382.87 1822.5,1382.87 1824.0,1382.87 1825.5,1382.87 1827.0,1382.87 1828.5,1382.87 1830.0,1382.87 1831.5,1382.87 1833.0,1382.87 1834.5,1382.87 1836.0,1382.87 1837.5,1382.87 1839.0,1382.87 1840.5,1382.87 1842.0,1382.87 1843.5,1382.87 1845.0,1382.86 1846.5,1382.86 1848.0,1382.86 1849.5,1382.86 1851.0,1382.86 1852.5,1382.86 1854.0,1382.86 1855.5,1382.86 1857.0,1382.86 1858.5,1382.86 1860.0,1382.86 1861.5,1382.86 1863.0,1382.86 1864.5,1382.86 1866.0,1382.86 1867.5,1382.86 1869.0,1382.85 1870.5,1382.85 1872.0,1382.85 1873.5,1382.85 1875.0,1382.85 1876.5,1382.85 1878.0,1382.85 1879.5,1382.85 1881.0,1382.85 1882.5,1382.85 1884.0,1382.85 1885.5,1382.85 1887.0,1382.85 1888.5,1382.85 1890.0,1382.85 1891.5,1382.84 1893.0,1382.84 1894.5,1382.84 1896.0,1382.84 1897.5,1382.84 1899.0,1382.84 1900.5,1382.84 1902.0,1382.84 1903.5,1382.84 1905.0,1382.84 1906.5,1382.84 1908.0,1382.84 1909.5,1382.84 1911.0,1382.84 1912.5,1382.83 1914.0,1382.83 1915.5,1382.83 1917.0,1382.83 1918.5,1382.83 1920.0,1382.83 1921.5,1382.83 1923.0,1382.83 1924.5,1382.83 1926.0,1382.83 1927.5,1382.83 1929.0,1382.83 1930.5,1382.83 1932.0,1382.83 1933.5,1382.82 1935.0,1382.82 1936.5,1382.82 1938.0,1382.82 1939.5,1382.82 1941.0,1382.82 1942.5,1382.82 1944.0,1382.82 1945.5,1382.82 1947.0,1382.82 1948.5,1382.82 1950.0,1382.82 1951.5,1382.81 1953.0,1382.81 1954.5,1382.81 1956.0,1382.81 1957.5,1382.81 1959.0,1382.81 1960.5,1382.81 1962.0,1382.81 1963.5,1382.81 1965.0,1382.81 1966.5,1382.81 1968.0,1382.81 1969.5,1382.80 1971.0,1382.80 1972.5,1382.80 1974.0,1382.80 1975.5,1382.80 1977.0,1382.80 1978.5,1382.80 1980.0,1382.80 1981.5,1382.80 1983.0,1382.80 1984.5,1382.80 1986.0,1382.79 1987.5,1382.79 1989.0,1382.79 1990.5,1382.79 1992.0,1382.79 1993.5,1382.79 1995.0,1382.79 1996.5,1382.79 1998.0,1382.79 1999.5,1382.79 2001.0,1382.79 2002.5,1382.78 2004.0,1382.78 2005.5,1382.78 2007.0,1382.78 2008.5,1382.78 2010.0,1382.78 2011.5,1382.78 2013.0,1382.78 2014.5,1382.78 2016.0,1382.72 2017.6,1382.50 2019.1,1382.15 2020.6,1381.68 2022.2,1381.12 2023.7,1380.50 2025.2,1379.84 2026.7,1379.15 2028.2,1378.30 2029.8,1377.27 2031.3,1376.07 2032.8,1374.68 2034.3,1373.11 2035.9,1371.13 2037.4,1368.62 2038.9,1365.73 2040.4,1362.60 2041.9,1359.38 2043.4,1356.10 2044.9,1352.51 2046.4,1348.69 2047.9,1344.80 2049.4,1340.99 2050.9,1337.41 2052.4,1333.99 2053.9,1330.66 2055.4,1327.40 2056.9,1324.23 2058.4,1321.16 2059.9,1318.12 2061.4,1315.03 2062.9,1312.07 2064.4,1309.45 2065.9,1307.36 2067.3,1305.57 2068.8,1304.02 2070.2,1302.93 2071.6,1302.37 2073.1,1302.02 2074.6,1301.86 2076.1,1302.06 2077.7,1302.78 2079.3,1303.90 2080.8,1305.28 2082.3,1306.86 2083.9,1309.16 2085.4,1312.22 2086.9,1315.71 2088.4,1319.27 2089.9,1322.84 2091.4,1326.65 2092.9,1330.63 2094.4,1334.66 2095.9,1338.64 2097.4,1342.75 2098.9,1346.96 2100.4,1350.96 2101.9,1354.44 2103.4,1357.31 2104.9,1359.87 2106.4,1362.16 2107.8,1364.14 2109.3,1365.78 2110.8,1367.17 2112.3,1368.40 2113.7,1369.46 2115.2,1370.34 2116.7,1371.08 2118.2,1371.80 2119.6,1372.43 2121.1,1372.87 2122.6,1373.00 2124.2,1372.49 2125.8,1371.25 2127.3,1369.57 2128.8,1367.77 2130.4,1366.01 2131.9,1364.00 2133.4,1361.77 2134.9,1359.49 2136.4,1357.34 2137.8,1355.48 2139.3,1353.80 2140.8,1352.16 2142.3,1350.65 2143.8,1349.34 2145.2,1348.32 2146.7,1347.56 2148.2,1346.87 2149.6,1346.26 2151.1,1345.75 2152.6,1345.40 2154.1,1345.24 2155.6,1345.39 2157.2,1345.95 2158.7,1346.80 2160.3,1347.83 2161.8,1348.92 2163.3,1350.09 2164.8,1351.52 2166.3,1353.17 2167.8,1354.94 2169.3,1356.75 2170.8,1358.52 2172.3,1360.33 2173.8,1362.22 2175.3,1364.13 2176.8,1366.01 2178.3,1367.82 2179.8,1369.59 2181.3,1371.38 2182.8,1373.14 2184.3,1374.77 2185.8,1376.20 2187.3,1377.37 2188.7,1378.43 2190.2,1379.40 2191.7,1380.26 2193.2,1380.96 2194.6,1381.47 2196.1,1381.86 2197.6,1382.22 2199.1,1382.54 2200.6,1382.82 2202.1,1383.04 2203.5,1383.20 2205.0,1383.27 2206.5,1383.28 2208.0,1383.28 2209.5,1383.28 2211.0,1383.28 2212.5,1383.28 2214.0,1383.28 2215.5,1383.28 2217.0,1383.28 2218.5,1383.28 2220.0,1383.28 2221.5,1383.28 2223.0,1383.28 2224.5,1383.28 2226.0,1383.28 2227.5,1383.28 2229.0,1383.28 2230.5,1383.28 2232.0,1383.28 2233.5,1383.28 2235.0,1383.28 2236.5,1383.28 2238.0,1383.28 2239.5,1383.28 2241.0,1383.28 2242.5,1383.28 2244.0,1383.28"/>
<path stroke="#0000ff" stroke-width="7.9" d="M330.3,1294.53 331.8,1295.84 333.3,1297.33 334.8,1298.87 336.3,1300.50 337.8,1302.12 339.3,1303.60 340.8,1304.85 342.3,1305.91 343.7,1306.94 345.2,1307.90 346.7,1308.66 348.1,1309.12 349.7,1309.14 351.2,1308.35 352.8,1306.80 354.4,1304.71 355.9,1302.33 357.4,1299.89 358.9,1297.63 360.4,1295.44 361.9,1293.10 363.4,1290.66 364.9,1288.18 366.4,1285.71 367.9,1283.32 369.4,1281.01 370.9,1278.67 372.4,1276.33 373.9,1274.05 375.4,1271.88 376.8,1269.89 378.3,1268.12 379.8,1266.47 381.3,1264.89 382.8,1263.42 384.3,1262.07 385.8,1260.87 387.2,1259.82 388.7,1258.93 390.2,1258.15 391.7,1257.44 393.2,1256.78 394.7,1256.16 396.2,1255.54 397.7,1254.91 399.2,1254.25 400.7,1253.58 402.2,1252.90 403.7,1252.24 405.2,1251.60 406.7,1251.00 408.1,1250.45 409.6,1249.96 411.1,1249.45 412.6,1248.94 414.1,1248.45 415.6,1248.02 417.1,1247.68 418.6,1247.46 420.0,1247.40 421.6,1247.56 423.1,1247.96 424.7,1248.55 426.2,1249.29 427.7,1250.14 429.2,1251.06 430.8,1252.02 432.3,1253.13 433.8,1254.55 435.3,1256.22 436.8,1258.03 438.3,1259.89 439.9,1261.76 441.4,1263.75 442.9,1265.88 444.4,1268.05 445.9,1270.20 447.4,1272.25 448.9,1274.27 450.4,1276.33 451.8,1278.33 453.3,1280.17 454.8,1281.75 456.3,1283.05 457.8,1284.24 459.2,1285.33 460.7,1286.27 462.2,1287.00 463.6,1287.48 465.1,1287.79 466.6,1287.95 468.1,1287.79 469.7,1287.29 471.2,1286.53 472.7,1285.58 474.3,1284.53 475.8,1283.45 477.3,1282.43 478.8,1281.35 480.3,1280.12 481.8,1278.80 483.3,1277.45 484.8,1276.13 486.3,1274.91 487.7,1273.85 489.2,1272.98 490.7,1272.21 492.2,1271.50 493.7,1270.84 495.2,1270.20 496.7,1269.56 498.2,1268.91 499.7,1268.23 501.2,1267.57 502.7,1266.92 504.2,1266.27 505.7,1265.61 507.2,1264.91 508.7,1264.15 510.2,1263.32 511.8,1262.33 513.3,1261.22 514.8,1260.06 516.3,1258.94 517.7,1257.93 519.2,1257.00 520.7,1256.01 522.2,1255.09 523.6,1254.37 525.1,1253.99 526.6,1254.04 528.1,1254.41 529.7,1255.03 531.2,1255.82 532.7,1256.69 534.2,1257.59 535.8,1258.61 537.3,1259.88 538.8,1261.31 540.3,1262.76 541.8,1264.08 543.3,1265.23 544.8,1266.39 546.3,1267.58 547.7,1268.67 549.2,1269.58 550.6,1270.19 552.1,1270.38 553.7,1270.05 555.2,1269.24 556.8,1268.07 558.3,1266.69 559.8,1265.25 561.3,1263.88 562.8,1262.60 564.3,1261.24 565.8,1259.80 567.3,1258.33 568.8,1256.86 570.3,1255.44 571.8,1254.11 573.3,1252.90 574.8,1251.77 576.3,1250.70 577.8,1249.67 579.2,1248.66 580.7,1247.67 582.2,1246.68 583.7,1245.68 585.2,1244.74 586.7,1243.87 588.2,1243.00 589.7,1242.07 591.3,1241.02 592.8,1239.77 594.3,1238.17 595.9,1236.11 597.4,1233.74 598.9,1231.24 600.4,1228.72 601.9,1226.03 603.4,1223.17 604.9,1220.24 606.4,1217.39 607.9,1214.73 609.4,1212.20 610.9,1209.65 612.4,1207.28 613.8,1205.31 615.3,1203.88 616.8,1202.67 618.2,1201.57 619.7,1200.66 621.1,1200.03 622.6,1199.76 624.1,1199.98 625.7,1200.73 627.3,1201.87 628.8,1203.23 630.3,1204.68 631.8,1206.13 633.3,1207.81 634.9,1209.76 636.4,1211.87 637.9,1214.04 639.4,1216.19 640.9,1218.23 642.4,1220.21 643.9,1222.21 645.4,1224.22 646.9,1226.19 648.3,1228.11 649.8,1229.94 651.3,1231.65 652.8,1233.27 654.3,1234.90 655.8,1236.48 657.3,1238.00 658.8,1239.39 660.3,1240.62 661.7,1241.66 663.2,1242.50 664.7,1243.31 666.2,1244.07 667.7,1244.74 669.1,1245.27 670.6,1245.60 672.1,1245.67 673.6,1245.36 675.2,1244.66 676.8,1243.66 678.3,1242.45 679.8,1241.13 681.3,1239.78 682.8,1238.33 684.3,1236.58 685.9,1234.58 687.4,1232.39 688.9,1230.09 690.4,1227.74 691.9,1225.42 693.4,1223.14 694.9,1220.80 696.4,1218.39 697.9,1215.93 699.4,1213.45 700.9,1210.96 702.4,1208.48 703.9,1206.03 705.4,1203.54 706.9,1201.01 708.4,1198.47 709.9,1195.97 711.4,1193.54 712.9,1191.22 714.4,1189.04 715.9,1186.93 717.4,1184.85 718.8,1182.88 720.3,1181.09 721.8,1179.57 723.3,1178.31 724.8,1177.09 726.3,1175.93 727.7,1174.94 729.1,1174.20 730.6,1173.82 732.1,1173.90 733.7,1174.53 735.3,1175.61 736.8,1177.00 738.3,1178.56 739.9,1180.48 741.4,1183.25 742.9,1186.67 744.4,1190.39 745.9,1194.09 747.4,1197.51 748.9,1200.86 750.4,1204.27 751.9,1207.63 753.4,1210.84 754.9,1213.78 756.4,1216.53 757.9,1219.25 759.4,1221.83 760.9,1224.13 762.3,1226.00 763.8,1227.38 765.2,1228.56 766.7,1229.51 768.1,1230.00 769.7,1229.80 771.3,1228.86 772.8,1227.35 774.4,1225.47 775.9,1223.40 777.4,1221.25 778.9,1218.58 780.4,1215.34 781.9,1211.79 783.4,1208.19 784.9,1204.79 786.4,1201.59 787.9,1198.34 789.4,1195.13 790.9,1192.09 792.4,1189.36 793.9,1186.99 795.4,1184.80 796.8,1182.79 798.3,1181.06 799.8,1179.72 801.2,1178.66 802.7,1177.71 804.2,1176.97 805.6,1176.58 807.1,1176.71 808.7,1177.40 810.3,1178.50 811.8,1179.86 813.3,1181.29 814.8,1182.64 816.3,1183.94 817.8,1185.37 819.3,1186.89 820.8,1188.43 822.3,1189.92 823.8,1191.29 825.3,1192.48 826.8,1193.50 828.2,1194.51 829.7,1195.52 831.2,1196.45 832.7,1197.24 834.1,1197.85 835.6,1198.21 837.0,1198.28 838.6,1198.17 840.1,1197.95 841.6,1197.62 843.1,1197.22 844.6,1196.74 846.1,1196.22 847.7,1195.66 849.2,1195.09 850.7,1194.51 852.2,1193.86 853.7,1193.12 855.2,1192.27 856.7,1191.33 858.3,1190.27 859.8,1189.12 861.3,1187.85 862.8,1186.39 864.3,1184.66 865.9,1182.64 867.4,1180.34 868.9,1177.75 870.4,1174.72 871.9,1170.88 873.4,1166.36 874.9,1161.40 876.4,1156.24 877.9,1150.65 879.4,1144.48 880.9,1138.06 882.4,1131.77 883.9,1125.88 885.4,1120.26 886.9,1114.77 888.4,1109.29 889.9,1103.70 891.4,1098.06 892.9,1094.40 894.4,1091.71 895.8,1089.64 897.3,1088.07 898.8,1086.70 900.2,1085.51 901.7,1084.68 903.1,1084.40 904.7,1084.91 906.3,1086.23 907.9,1088.14 909.4,1090.42 910.9,1092.83 912.4,1095.25 913.9,1098.04 915.4,1101.31 916.9,1104.83 918.4,1108.35 919.9,1111.64 921.4,1114.69 922.9,1117.73 924.4,1120.70 925.9,1123.49 927.4,1125.98 928.9,1128.13 930.4,1130.10 931.8,1131.97 933.3,1133.69 934.8,1135.22 936.3,1136.50 937.7,1137.51 939.2,1138.36 940.7,1139.16 942.2,1139.89 943.6,1140.49 945.1,1140.92 946.6,1141.14 948.1,1141.00 949.7,1140.27 951.3,1139.03 952.8,1137.39 954.4,1135.47 955.9,1133.39 957.4,1131.28 958.9,1129.18 960.4,1126.78 961.9,1124.04 963.4,1121.09 964.9,1118.06 966.4,1115.08 967.9,1112.09 969.4,1108.96 970.9,1105.80 972.4,1102.73 973.9,1099.86 975.4,1097.24 976.9,1094.70 978.4,1092.29 979.8,1090.17 981.3,1088.48 982.8,1087.06 984.3,1085.76 985.7,1084.79 987.2,1084.40 988.7,1084.84 990.3,1086.13 991.9,1088.09 993.4,1090.49 994.9,1093.12 996.4,1095.81 997.9,1098.94 999.4,1102.86 1000.9,1107.21 1002.4,1111.58 1003.9,1115.58 1005.4,1119.00 1006.9,1122.23 1008.4,1125.32 1009.9,1128.15 1011.4,1130.60 1012.8,1132.58 1014.3,1134.32 1015.8,1135.95 1017.2,1137.25 1018.7,1138.00 1020.2,1137.87 1021.8,1136.50 1023.4,1134.14 1024.9,1131.14 1026.4,1127.89 1027.9,1124.69 1029.4,1121.16 1030.9,1117.08 1032.4,1112.86 1033.9,1108.94 1035.4,1105.56 1036.9,1102.36 1038.4,1099.37 1039.9,1096.76 1041.3,1094.70 1042.8,1092.96 1044.3,1091.42 1045.7,1090.41 1047.2,1090.30 1048.8,1091.32 1050.4,1093.29 1051.9,1095.92 1053.4,1098.91 1054.9,1102.00 1056.4,1105.60 1057.9,1110.15 1059.4,1115.08 1060.9,1119.79 1062.4,1123.81 1063.9,1127.53 1065.4,1131.11 1066.9,1134.42 1068.4,1137.38 1069.9,1139.88 1071.4,1141.98 1072.8,1143.86 1074.3,1145.51 1075.8,1146.89 1077.3,1148.05 1078.7,1149.15 1080.2,1150.15 1081.6,1150.89 1083.1,1151.22 1084.6,1151.08 1086.1,1150.61 1087.7,1149.99 1089.1,1149.39 1090.6,1148.98 1092.0,1148.90 1093.5,1149.01 1095.1,1149.20 1096.5,1149.40 1098.0,1149.56 1099.6,1149.62 1101.1,1149.34 1102.7,1148.55 1104.3,1147.39 1105.8,1145.98 1107.4,1144.30 1108.9,1141.79 1110.4,1138.46 1111.9,1134.60 1113.4,1130.46 1114.9,1125.97 1116.4,1120.81 1117.9,1115.10 1119.4,1108.96 1120.9,1102.41 1122.4,1094.99 1123.9,1087.04 1125.4,1079.21 1126.9,1071.78 1128.4,1064.40 1129.9,1057.46 1131.4,1051.40 1132.9,1046.07 1134.4,1041.51 1135.9,1038.15 1137.3,1035.39 1138.8,1033.69 1140.3,1034.03 1141.9,1036.45 1143.4,1040.13 1144.9,1044.28 1146.4,1049.22 1147.9,1055.43 1149.4,1062.40 1150.9,1069.77 1152.4,1077.98 1153.9,1086.61 1155.4,1095.11 1156.9,1103.70 1158.4,1112.12 1159.9,1119.97 1161.4,1127.38 1162.9,1134.52 1164.4,1141.22 1165.9,1147.26 1167.4,1152.53 1168.9,1157.25 1170.4,1161.59 1171.9,1165.61 1173.4,1169.37 1174.9,1172.93 1176.4,1176.25 1177.9,1179.31 1179.4,1182.20 1180.9,1185.02 1182.4,1187.86 1183.9,1190.81 1185.4,1193.91 1186.9,1197.05 1188.4,1200.24 1189.9,1203.49 1191.4,1206.82 1192.9,1210.26 1194.4,1213.86 1195.9,1217.58 1197.4,1221.37 1198.9,1225.15 1200.4,1228.84 1201.9,1232.50 1203.4,1236.26 1204.9,1239.98 1206.4,1243.51 1207.9,1246.68 1209.4,1249.37 1210.9,1251.76 1212.4,1253.87 1213.8,1255.64 1215.3,1257.15 1216.8,1258.61 1218.2,1259.79 1219.7,1260.40 1221.2,1260.09 1222.8,1258.65 1224.4,1256.39 1225.9,1253.67 1227.4,1250.83 1228.9,1247.93 1230.4,1244.49 1231.9,1240.62 1233.4,1236.59 1234.9,1232.64 1236.4,1229.00 1237.9,1225.50 1239.4,1222.01 1240.9,1218.64 1242.4,1215.50 1243.9,1212.68 1245.4,1210.18 1246.9,1207.88 1248.3,1205.88 1249.8,1204.27 1251.3,1202.84 1252.7,1201.67 1254.2,1201.20 1255.7,1201.64 1257.3,1202.85 1258.8,1204.64 1260.4,1206.85 1261.9,1209.33 1263.4,1212.71 1264.9,1217.49 1266.4,1223.07 1267.9,1228.92 1269.4,1235.33 1270.9,1242.39 1272.4,1249.83 1273.9,1257.64 1275.4,1266.03 1276.9,1274.60 1278.4,1282.89 1279.9,1291.05 1281.4,1299.10 1282.9,1306.45 1284.4,1312.66 1285.9,1318.06 1287.4,1322.86 1288.9,1327.08 1290.4,1330.88 1291.9,1334.48 1293.4,1337.69 1294.9,1340.31 1296.3,1342.21 1297.8,1343.76 1299.3,1345.15 1300.7,1346.27 1302.2,1346.99 1303.6,1347.17 1305.2,1346.56 1306.8,1345.21 1308.3,1343.38 1309.9,1341.31 1311.4,1339.27 1312.8,1337.45 1314.4,1335.60 1315.9,1333.67 1317.3,1331.73 1318.8,1329.86 1320.3,1328.14 1321.8,1326.53 1323.3,1324.94 1324.8,1323.40 1326.3,1321.96 1327.8,1320.67 1329.2,1319.58 1330.7,1318.67 1332.2,1317.79 1333.7,1316.94 1335.2,1316.16 1336.7,1315.50 1338.1,1315.00 1339.6,1314.70 1341.1,1314.64 1342.6,1314.82 1344.1,1315.21 1345.7,1315.74 1347.2,1316.39 1348.7,1317.10 1350.2,1317.84 1351.7,1318.56 1353.2,1319.21 1354.7,1319.86 1356.2,1320.54 1357.7,1321.25 1359.2,1321.98 1360.7,1322.71 1362.2,1323.44 1363.7,1324.15 1365.2,1324.83 1366.7,1325.47 1368.2,1326.09 1369.7,1326.72 1371.2,1327.35 1372.7,1327.97 1374.2,1328.56 1375.6,1329.12 1377.1,1329.63 1378.6,1330.08 1380.1,1330.47 1381.6,1330.80 1383.1,1331.10 1384.6,1331.37 1386.1,1331.62 1387.6,1331.85 1389.1,1332.07 1390.6,1332.29 1392.1,1332.50 1393.6,1332.69 1395.0,1332.86 1396.5,1333.02 1398.0,1333.18 1399.6,1333.35 1401.1,1333.54 1402.6,1333.76 1404.1,1334.02 1405.6,1334.35 1407.1,1334.79 1408.7,1335.32 1410.2,1335.93 1411.7,1336.61 1413.2,1337.34 1414.7,1338.09 1416.2,1338.86 1417.7,1339.62 1419.2,1340.38 1420.7,1341.19 1422.2,1342.06 1423.7,1342.96 1425.2,1343.88 1426.7,1344.82 1428.2,1345.75 1429.7,1346.67 1431.2,1347.57 1432.7,1348.44 1434.2,1349.32 1435.7,1350.22 1437.2,1351.11 1438.7,1351.99 1440.2,1352.85 1441.7,1353.67 1443.2,1354.45 1444.7,1355.17 1446.2,1355.85 1447.7,1356.55 1449.2,1357.28 1450.7,1358.00 1452.2,1358.68 1453.6,1359.28 1455.1,1359.79 1456.6,1360.17 1458.0,1360.39 1459.5,1360.42 1461.1,1360.30 1462.6,1360.07 1464.1,1359.74 1465.6,1359.35 1467.1,1358.92 1468.6,1358.46 1470.1,1358.01 1471.6,1357.51 1473.2,1356.93 1474.7,1356.27 1476.2,1355.56 1477.7,1354.79 1479.2,1353.98 1480.7,1353.14 1482.2,1352.22 1483.8,1351.16 1485.3,1350.01 1486.8,1348.80 1488.3,1347.59 1489.8,1346.43 1491.3,1345.36 1492.7,1344.40 1494.2,1343.47 1495.7,1342.58 1497.2,1341.74 1498.7,1340.99 1500.2,1340.32 1501.7,1339.66 1503.1,1339.03 1504.6,1338.58 1506.1,1338.45 1507.6,1338.79 1509.2,1339.54 1510.8,1340.59 1512.3,1341.79 1513.8,1343.03 1515.3,1344.48 1516.8,1346.25 1518.4,1348.24 1519.9,1350.29 1521.4,1352.29 1522.9,1354.17 1524.3,1356.02 1525.8,1357.88 1527.3,1359.73 1528.8,1361.58 1530.4,1363.44 1531.9,1365.37 1533.4,1367.36 1534.8,1369.31 1536.3,1371.15 1537.8,1372.78 1539.3,1374.23 1540.8,1375.63 1542.3,1376.94 1543.7,1378.09 1545.2,1379.00 1546.7,1379.65 1548.1,1380.18 1549.6,1380.67 1551.1,1381.11 1552.6,1381.48 1554.1,1381.77 1555.5,1381.95 1557.0,1382.02 1558.5,1382.02 1560.0,1382.02 1561.5,1382.02 1563.0,1382.02 1564.5,1382.02 1566.0,1382.02 1567.5,1382.02 1569.0,1382.02 1570.5,1382.02 1572.0,1382.02 1573.5,1382.02 1575.0,1382.02 1576.5,1382.02 1578.0,1382.02 1579.5,1382.02 1581.0,1382.02 1582.5,1382.02 1584.0,1382.02 1585.5,1382.02 1587.0,1382.02 1588.5,1382.02 1590.0,1382.02 1591.5,1382.02 1593.0,1382.02 1594.5,1382.02 1596.1,1381.88 1597.7,1381.26 1599.3,1380.19 1600.8,1378.79 1602.3,1377.17 1603.9,1375.39 1605.4,1373.04 1606.9,1369.92 1608.4,1366.23 1609.9,1362.18 1611.4,1357.77 1612.9,1352.60 1614.4,1346.77 1615.9,1340.49 1617.4,1333.71 1618.9,1326.28 1620.4,1318.20 1621.9,1309.33 1623.4,1299.15 1624.9,1288.67 1626.4,1278.95 1627.9,1269.65 1629.4,1260.71 1630.9,1252.17 1632.4,1243.87 1633.9,1235.83 1635.4,1228.52 1636.9,1222.27 1638.4,1216.66 1639.9,1211.70 1641.4,1207.69 1642.9,1204.67 1644.4,1202.27 1645.8,1200.46 1647.3,1198.99 1648.7,1197.79 1650.2,1197.28 1651.8,1198.01 1653.3,1200.06 1654.9,1202.90 1656.4,1206.01 1657.9,1209.35 1659.4,1213.39 1660.9,1217.88 1662.4,1222.46 1663.9,1227.25 1665.4,1232.26 1666.9,1237.16 1668.4,1241.77 1669.9,1246.30 1671.4,1250.56 1672.9,1254.19 1674.4,1257.13 1675.9,1259.67 1677.4,1261.91 1678.9,1263.94 1680.3,1265.79 1681.8,1267.48 1683.3,1269.07 1684.8,1270.60 1686.3,1272.06 1687.8,1273.40 1689.3,1274.67 1690.8,1275.98 1692.3,1277.42 1693.8,1279.07 1695.4,1280.99 1696.9,1283.14 1698.4,1285.48 1699.9,1287.97 1701.4,1290.63 1702.9,1293.56 1704.4,1296.69 1705.9,1299.90 1707.4,1303.12 1708.9,1306.41 1710.4,1309.78 1711.9,1313.17 1713.4,1316.50 1714.9,1319.84 1716.4,1323.32 1717.9,1326.53 1719.4,1329.02 1720.8,1330.90 1722.3,1332.49 1723.7,1333.65 1725.1,1334.26 1726.6,1334.63 1728.1,1334.83 1729.6,1334.69 1731.2,1334.00 1732.8,1332.88 1734.3,1331.53 1735.8,1330.12 1737.3,1328.83 1738.8,1327.51 1740.3,1326.10 1741.8,1324.64 1743.3,1323.19 1744.8,1321.83 1746.3,1320.54 1747.8,1319.24 1749.3,1317.98 1750.8,1316.81 1752.2,1315.80 1753.7,1314.97 1755.2,1314.22 1756.7,1313.51 1758.1,1312.90 1759.6,1312.45 1761.1,1312.20 1762.5,1312.10 1764.0,1312.04 1765.5,1311.98 1767.0,1311.94 1768.5,1311.92 1770.0,1311.95 1771.6,1312.12 1773.1,1312.45 1774.6,1312.88 1776.1,1313.39 1777.7,1313.92 1779.2,1314.56 1780.7,1315.39 1782.2,1316.35 1783.8,1317.40 1785.3,1318.46 1786.8,1319.54 1788.3,1320.69 1789.8,1321.91 1791.3,1323.17 1792.8,1324.45 1794.3,1325.72 1795.8,1326.94 1797.3,1328.09 1798.8,1329.25 1800.3,1330.43 1801.8,1331.60 1803.3,1332.71 1804.7,1333.73 1806.2,1334.63 1807.7,1335.36 1809.2,1335.96 1810.6,1336.49 1812.1,1336.97 1813.6,1337.41 1815.1,1337.81 1816.6,1338.19 1818.1,1338.55 1819.6,1338.92 1821.1,1339.31 1822.6,1339.70 1824.1,1340.06 1825.6,1340.37 1827.1,1340.61 1828.5,1340.74 1830.0,1340.74 1831.6,1340.58 1833.1,1340.28 1834.6,1339.90 1836.1,1339.48 1837.6,1339.05 1839.1,1338.66 1840.6,1338.34 1842.1,1338.03 1843.6,1337.71 1845.1,1337.39 1846.6,1337.10 1848.1,1336.86 1849.5,1336.70 1851.0,1336.64 1852.5,1336.63 1854.0,1336.63 1855.5,1336.63 1857.0,1336.63 1858.5,1336.63 1860.1,1336.70 1861.6,1337.06 1863.2,1337.71 1864.7,1338.55 1866.2,1339.50 1867.8,1340.47 1869.3,1341.60 1870.8,1343.01 1872.3,1344.62 1873.8,1346.34 1875.3,1348.11 1876.8,1349.83 1878.3,1351.43 1879.8,1352.93 1881.3,1354.42 1882.8,1355.90 1884.3,1357.36 1885.8,1358.76 1887.3,1360.08 1888.8,1361.30 1890.3,1362.42 1891.8,1363.47 1893.2,1364.47 1894.7,1365.39 1896.2,1366.22 1897.7,1366.94 1899.2,1367.64 1900.7,1368.32 1902.1,1368.88 1903.6,1369.20 1905.1,1369.18 1906.6,1368.80 1908.2,1368.13 1909.7,1367.25 1911.2,1366.25 1912.8,1365.20 1914.3,1364.18 1915.8,1363.05 1917.3,1361.76 1918.8,1360.35 1920.3,1358.86 1921.8,1357.34 1923.3,1355.84 1924.8,1354.40 1926.3,1352.98 1927.8,1351.54 1929.3,1350.09 1930.8,1348.65 1932.3,1347.25 1933.8,1345.89 1935.3,1344.62 1936.8,1343.42 1938.3,1342.28 1939.8,1341.19 1941.3,1340.14 1942.7,1339.15 1944.2,1338.19 1945.7,1337.27 1947.2,1336.57 1948.6,1336.04 1950.1,1335.54 1951.6,1335.09 1953.1,1334.71 1954.6,1334.40 1956.0,1334.20 1957.5,1334.12 1959.0,1334.11 1960.5,1334.11 1962.0,1334.11 1963.5,1334.11 1965.0,1334.11 1966.6,1334.17 1968.1,1334.52 1969.7,1335.16 1971.2,1335.99 1972.7,1336.93 1974.3,1337.88 1975.8,1338.93 1977.3,1340.21 1978.8,1341.65 1980.3,1343.18 1981.8,1344.73 1983.3,1346.23 1984.8,1347.61 1986.3,1348.87 1987.8,1350.14 1989.3,1351.40 1990.8,1352.61 1992.3,1353.75 1993.7,1354.77 1995.2,1355.64 1996.7,1356.36 1998.2,1357.05 1999.7,1357.71 2001.1,1358.30 2002.6,1358.76 2004.1,1359.07 2005.6,1359.15 2007.2,1358.82 2008.7,1358.01 2010.3,1356.84 2011.8,1355.41 2013.3,1353.82 2014.8,1352.18 2016.4,1350.34 2017.9,1348.01 2019.4,1345.31 2020.9,1342.48 2022.4,1339.71 2023.9,1337.16 2025.4,1334.62 2026.9,1332.06 2028.4,1329.61 2029.9,1327.39 2031.3,1325.54 2032.8,1324.02 2034.3,1322.65 2035.8,1321.42 2037.2,1320.35 2038.7,1319.44 2040.2,1318.69 2041.7,1317.98 2043.2,1317.33 2044.6,1316.82 2046.1,1316.53 2047.6,1316.58 2049.2,1317.14 2050.8,1318.12 2052.3,1319.36 2053.8,1320.72 2055.3,1322.12 2056.8,1323.84 2058.4,1325.84 2059.9,1327.98 2061.4,1330.08 2062.9,1332.15 2064.4,1334.30 2065.9,1336.46 2067.4,1338.59 2068.9,1340.60 2070.3,1342.46 2071.8,1344.28 2073.3,1346.05 2074.8,1347.70 2076.3,1349.19 2077.8,1350.47 2079.3,1351.59 2080.7,1352.63 2082.2,1353.59 2083.7,1354.48 2085.2,1355.28 2086.7,1356.00 2088.2,1356.64 2089.6,1357.20 2091.1,1357.71 2092.6,1358.17 2094.1,1358.60 2095.6,1358.99 2097.1,1359.37 2098.6,1359.73 2100.1,1360.09 2101.6,1360.46 2103.1,1360.83 2104.6,1361.23 2106.1,1361.63 2107.6,1362.02 2109.1,1362.41 2110.6,1362.76 2112.1,1363.08 2113.6,1363.34 2115.1,1363.54 2116.5,1363.68 2118.0,1363.79 2119.5,1363.88 2121.0,1363.96 2122.5,1364.03 2124.0,1364.09 2125.5,1364.16 2127.0,1364.23 2128.5,1364.32 2130.0,1364.42 2131.5,1364.53 2133.0,1364.63 2134.5,1364.75 2136.0,1364.87 2137.5,1365.01 2139.0,1365.16 2140.6,1365.32 2142.1,1365.51 2143.6,1365.73 2145.1,1366.01 2146.6,1366.35 2148.1,1366.75 2149.6,1367.19 2151.1,1367.68 2152.6,1368.20 2154.2,1368.75 2155.7,1369.39 2157.2,1370.14 2158.7,1370.96 2160.2,1371.84 2161.7,1372.72 2163.2,1373.57 2164.7,1374.37 2166.2,1375.12 2167.7,1375.87 2169.2,1376.61 2170.7,1377.34 2172.2,1378.03 2173.7,1378.69 2175.2,1379.29 2176.7,1379.85 2178.2,1380.42 2179.6,1380.99 2181.1,1381.52 2182.6,1381.99 2184.1,1382.38 2185.6,1382.66 2187.0,1382.82 2188.5,1382.93 2190.0,1383.03 2191.5,1383.12 2193.0,1383.19 2194.5,1383.24 2196.0,1383.27 2197.5,1383.28 2199.0,1383.28 2200.5,1383.28 2202.0,1383.28 2203.5,1383.28 2205.0,1383.28 2206.5,1383.28 2208.0,1383.28 2209.5,1383.28 2211.0,1383.28 2212.5,1383.28 2214.0,1383.28 2215.5,1383.28 2217.0,1383.28 2218.5,1383.28 2220.0,1383.28 2221.5,1383.28 2223.0,1383.28 2224.5,1383.28 2226.0,1383.28 2227.5,1383.28 2229.0,1383.28 2230.5,1383.28 2232.0,1383.28 2233.5,1383.28 2235.0,1383.28 2236.5,1383.28 2238.0,1383.28 2239.5,1383.28 2241.0,1383.28 2242.5,1383.28 2244.0,1383.28"/>
<path stroke="#ff00ff" stroke-width="7.9" d="M330.4,1134.18 331.9,1139.41 333.4,1145.37 334.9,1151.55 336.4,1158.04 337.9,1164.46 339.4,1170.40 340.9,1175.45 342.4,1179.77 343.9,1184.07 345.4,1188.10 346.9,1191.53 348.3,1193.99 349.7,1195.13 351.3,1194.59 352.9,1192.39 354.4,1189.00 355.9,1184.92 357.4,1180.65 358.9,1176.65 360.4,1172.73 361.9,1168.49 363.4,1164.09 364.9,1159.75 366.4,1155.66 367.9,1151.92 369.4,1148.31 370.9,1144.82 372.4,1141.54 373.9,1138.58 375.4,1136.00 376.9,1133.66 378.4,1131.42 379.8,1129.40 381.3,1127.71 382.8,1126.45 384.2,1125.59 385.7,1124.86 387.1,1124.22 388.6,1123.73 390.1,1123.42 391.6,1123.36 393.1,1123.70 394.7,1124.45 396.2,1125.44 397.8,1126.54 399.2,1127.60 400.7,1128.46 402.2,1129.15 403.7,1129.81 405.2,1130.44 406.6,1130.98 408.1,1131.42 409.6,1131.72 411.1,1131.94 412.5,1132.12 414.0,1132.26 415.5,1132.40 417.0,1132.54 418.6,1132.71 420.1,1132.91 421.6,1133.14 423.1,1133.39 424.6,1133.66 426.1,1133.97 427.6,1134.35 429.1,1134.79 430.7,1135.38 432.2,1136.21 433.8,1137.27 435.3,1138.56 436.8,1140.07 438.4,1141.87 439.9,1144.45 441.4,1147.79 442.9,1151.57 444.4,1155.48 445.9,1159.47 447.4,1163.83 448.9,1168.41 450.4,1173.05 451.9,1177.58 453.4,1182.17 454.9,1186.80 456.4,1191.30 457.9,1195.49 459.4,1199.36 460.9,1203.13 462.4,1206.65 463.9,1209.71 465.4,1212.14 466.8,1214.17 468.3,1215.99 469.8,1217.49 471.2,1218.57 472.7,1219.26 474.1,1219.83 475.6,1220.31 477.1,1220.69 478.6,1220.92 480.0,1220.98 481.5,1220.89 483.1,1220.68 484.6,1220.38 486.1,1220.02 487.6,1219.63 489.1,1219.25 490.6,1218.90 492.1,1218.60 493.6,1218.30 495.1,1218.01 496.6,1217.70 498.1,1217.36 499.6,1216.97 501.1,1216.52 502.7,1215.95 504.2,1215.18 505.7,1214.23 507.3,1213.16 508.8,1212.05 510.3,1210.94 511.8,1209.89 513.3,1208.91 514.8,1207.85 516.3,1206.71 517.8,1205.59 519.2,1204.56 520.7,1203.73 522.1,1203.19 523.6,1203.03 525.1,1203.33 526.7,1204.03 528.3,1205.05 529.8,1206.27 531.3,1207.60 532.8,1209.20 534.4,1211.47 535.9,1214.21 537.4,1217.14 538.9,1219.96 540.4,1222.45 541.9,1224.90 543.4,1227.38 544.9,1229.71 546.3,1231.65 547.8,1233.01 549.2,1233.87 550.7,1234.59 552.1,1235.16 553.6,1235.51 555.1,1235.55 556.7,1234.97 558.3,1233.81 559.8,1232.32 561.3,1230.74 562.8,1229.32 564.2,1228.30 565.7,1227.62 567.2,1226.98 568.7,1226.38 570.1,1225.85 571.6,1225.42 573.1,1225.12 574.6,1224.96 576.1,1225.06 577.7,1225.54 579.2,1226.35 580.8,1227.37 582.3,1228.51 583.8,1229.71 585.3,1231.24 586.9,1233.16 588.4,1235.26 589.8,1237.31 591.3,1239.12 592.8,1240.62 594.3,1242.03 595.8,1243.36 597.3,1244.62 598.8,1245.80 600.3,1246.89 601.7,1247.89 603.2,1248.78 604.7,1249.55 606.2,1250.23 607.7,1250.85 609.2,1251.44 610.7,1252.03 612.2,1252.66 613.7,1253.35 615.2,1254.15 616.8,1255.09 618.3,1256.23 619.8,1257.57 621.3,1259.03 622.8,1260.55 624.3,1262.09 625.8,1263.57 627.3,1264.94 628.8,1266.29 630.3,1267.66 631.8,1269.03 633.3,1270.38 634.8,1271.70 636.3,1272.95 637.8,1274.13 639.2,1275.20 640.7,1276.16 642.2,1277.03 643.7,1277.84 645.2,1278.60 646.7,1279.33 648.2,1280.01 649.7,1280.66 651.2,1281.27 652.7,1281.85 654.2,1282.41 655.7,1282.96 657.2,1283.52 658.6,1284.07 660.1,1284.58 661.6,1285.03 663.1,1285.39 664.6,1285.64 666.0,1285.80 667.5,1285.93 669.0,1286.05 670.5,1286.13 672.0,1286.19 673.5,1286.18 675.1,1286.02 676.6,1285.67 678.1,1285.17 679.7,1284.56 681.2,1283.88 682.7,1283.15 684.2,1282.41 685.7,1281.56 687.3,1280.54 688.8,1279.37 690.3,1278.08 691.8,1276.73 693.3,1275.33 694.8,1273.94 696.3,1272.52 697.8,1270.98 699.3,1269.35 700.8,1267.68 702.3,1266.03 703.8,1264.44 705.3,1262.96 706.8,1261.59 708.3,1260.23 709.8,1258.90 711.3,1257.69 712.7,1256.67 714.2,1255.93 715.7,1255.34 717.1,1254.81 718.6,1254.37 720.1,1254.07 721.6,1253.96 723.1,1254.20 724.7,1254.87 726.3,1255.89 727.8,1257.14 729.3,1258.52 730.8,1259.95 732.4,1261.70 733.9,1263.87 735.4,1266.33 736.9,1268.94 738.4,1271.56 739.9,1274.17 741.4,1276.94 742.9,1279.82 744.4,1282.70 745.9,1285.49 747.4,1288.09 748.9,1290.61 750.4,1293.08 751.9,1295.45 753.4,1297.67 754.9,1299.69 756.3,1301.55 757.8,1303.34 759.3,1304.97 760.8,1306.33 762.2,1307.37 763.7,1308.26 765.2,1309.06 766.6,1309.67 768.1,1309.97 769.6,1309.82 771.2,1309.17 772.8,1308.10 774.3,1306.75 775.8,1305.21 777.3,1303.62 778.8,1302.10 780.3,1300.68 781.8,1299.19 783.3,1297.62 784.8,1295.98 786.3,1294.33 787.8,1292.71 789.3,1291.15 790.8,1289.69 792.3,1288.24 793.8,1286.78 795.3,1285.40 796.8,1284.16 798.2,1283.14 799.7,1282.30 801.2,1281.49 802.7,1280.77 804.1,1280.23 805.6,1279.95 807.1,1280.08 808.7,1280.71 810.3,1281.75 811.8,1283.06 813.3,1284.52 814.8,1286.00 816.3,1287.62 817.9,1289.57 819.4,1291.75 820.9,1294.03 822.4,1296.29 823.9,1298.43 825.4,1300.64 826.9,1302.91 828.4,1305.18 829.9,1307.39 831.4,1309.45 832.8,1311.30 834.3,1312.90 835.8,1314.33 837.3,1315.68 838.8,1316.89 840.2,1317.94 841.7,1318.77 843.2,1319.43 844.7,1320.04 846.1,1320.58 847.6,1321.01 849.1,1321.28 850.6,1321.32 852.1,1321.02 853.7,1320.40 855.2,1319.54 856.8,1318.51 858.3,1317.39 859.8,1316.26 861.3,1315.20 862.8,1314.10 864.3,1312.86 865.8,1311.54 867.3,1310.19 868.8,1308.88 870.3,1307.67 871.7,1306.63 873.2,1305.74 874.7,1304.91 876.2,1304.14 877.7,1303.42 879.2,1302.76 880.7,1302.15 882.1,1301.60 883.6,1301.09 885.1,1300.56 886.6,1300.07 888.1,1299.70 889.6,1299.51 891.1,1299.57 892.6,1299.85 894.1,1300.32 895.7,1300.94 897.2,1301.68 898.7,1302.49 900.2,1303.34 901.7,1304.19 903.2,1305.02 904.7,1305.81 906.2,1306.66 907.7,1307.57 909.2,1308.53 910.7,1309.52 912.3,1310.55 913.8,1311.59 915.3,1312.63 916.8,1313.68 918.3,1314.73 919.8,1315.80 921.3,1316.91 922.8,1318.03 924.3,1319.17 925.8,1320.31 927.3,1321.44 928.8,1322.56 930.3,1323.67 931.8,1324.76 933.3,1325.88 934.8,1327.03 936.3,1328.17 937.8,1329.26 939.2,1330.27 940.7,1331.17 942.2,1331.94 943.7,1332.67 945.2,1333.41 946.7,1334.12 948.2,1334.78 949.6,1335.33 951.1,1335.77 952.6,1336.04 954.1,1336.12 955.6,1335.94 957.1,1335.48 958.7,1334.82 960.2,1334.01 961.7,1333.12 963.2,1332.21 964.7,1331.33 966.2,1330.55 967.7,1329.83 969.2,1329.08 970.7,1328.33 972.2,1327.58 973.7,1326.87 975.2,1326.21 976.7,1325.63 978.1,1325.11 979.6,1324.57 981.1,1324.05 982.6,1323.59 984.1,1323.22 985.6,1323.00 987.1,1322.98 988.6,1323.29 990.2,1323.92 991.7,1324.78 993.2,1325.79 994.8,1326.86 996.3,1327.92 997.8,1329.03 999.3,1330.31 1000.8,1331.73 1002.3,1333.22 1003.8,1334.74 1005.3,1336.23 1006.8,1337.63 1008.3,1338.96 1009.8,1340.33 1011.3,1341.71 1012.8,1343.05 1014.3,1344.31 1015.8,1345.45 1017.2,1346.41 1018.7,1347.19 1020.2,1347.93 1021.7,1348.64 1023.2,1349.30 1024.6,1349.87 1026.1,1350.30 1027.6,1350.57 1029.0,1350.66 1030.5,1350.64 1032.0,1350.60 1033.5,1350.55 1035.0,1350.47 1036.5,1350.38 1038.0,1350.28 1039.5,1350.17 1041.1,1349.98 1042.6,1349.65 1044.1,1349.25 1045.6,1348.81 1047.1,1348.41 1048.6,1348.10 1050.0,1347.93 1051.5,1347.96 1053.1,1348.17 1054.6,1348.54 1056.1,1349.02 1057.7,1349.58 1059.2,1350.19 1060.7,1350.80 1062.2,1351.40 1063.7,1352.09 1065.2,1352.89 1066.7,1353.75 1068.2,1354.63 1069.7,1355.50 1071.2,1356.31 1072.7,1357.04 1074.2,1357.72 1075.7,1358.39 1077.2,1359.04 1078.7,1359.66 1080.1,1360.23 1081.6,1360.75 1083.1,1361.19 1084.6,1361.59 1086.1,1362.00 1087.6,1362.38 1089.1,1362.74 1090.6,1363.03 1092.0,1363.24 1093.5,1363.35 1095.0,1363.33 1096.6,1363.15 1098.1,1362.83 1099.6,1362.42 1101.1,1361.96 1102.6,1361.48 1104.1,1361.03 1105.6,1360.64 1107.1,1360.35 1108.6,1360.16 1110.0,1360.01 1111.5,1359.87 1113.0,1359.74 1114.5,1359.63 1116.0,1359.55 1117.5,1359.50 1119.0,1359.50 1120.5,1359.57 1122.1,1359.73 1123.6,1359.97 1125.1,1360.25 1126.6,1360.57 1128.1,1360.91 1129.6,1361.25 1131.1,1361.64 1132.6,1362.11 1134.2,1362.66 1135.7,1363.25 1137.2,1363.87 1138.7,1364.51 1140.2,1365.13 1141.7,1365.71 1143.1,1366.25 1144.6,1366.74 1146.1,1367.21 1147.6,1367.67 1149.1,1368.12 1150.6,1368.56 1152.1,1369.00 1153.6,1369.42 1155.1,1369.84 1156.6,1370.26 1158.1,1370.67 1159.6,1371.06 1161.1,1371.44 1162.6,1371.81 1164.1,1372.18 1165.6,1372.55 1167.1,1372.94 1168.6,1373.34 1170.1,1373.75 1171.6,1374.20 1173.1,1374.68 1174.6,1375.18 1176.1,1375.70 1177.6,1376.23 1179.1,1376.75 1180.6,1377.27 1182.1,1377.77 1183.6,1378.25 1185.1,1378.71 1186.6,1379.18 1188.1,1379.66 1189.6,1380.12 1191.1,1380.55 1192.6,1380.94 1194.1,1381.26 1195.6,1381.53 1197.1,1381.77 1198.6,1382.01 1200.1,1382.23 1201.5,1382.42 1203.0,1382.57 1204.5,1382.66 1206.0,1382.68 1207.5,1382.67 1209.0,1382.63 1210.5,1382.58 1212.0,1382.50 1213.5,1382.41 1215.0,1382.31 1216.6,1382.19 1218.1,1381.98 1219.6,1381.60 1221.2,1381.08 1222.7,1380.46 1224.2,1379.77 1225.7,1379.07 1227.2,1378.38 1228.7,1377.76 1230.1,1377.23 1231.6,1376.79 1233.1,1376.37 1234.6,1375.98 1236.1,1375.60 1237.6,1375.23 1239.1,1374.88 1240.6,1374.55 1242.1,1374.24 1243.6,1373.94 1245.1,1373.64 1246.6,1373.32 1248.1,1373.00 1249.6,1372.70 1251.1,1372.44 1252.5,1372.24 1254.0,1372.13 1255.5,1372.14 1257.1,1372.29 1258.6,1372.56 1260.1,1372.93 1261.6,1373.35 1263.1,1373.81 1264.6,1374.27 1266.1,1374.71 1267.6,1375.17 1269.1,1375.68 1270.6,1376.23 1272.2,1376.79 1273.6,1377.34 1275.1,1377.88 1276.6,1378.37 1278.1,1378.86 1279.6,1379.36 1281.1,1379.87 1282.6,1380.37 1284.1,1380.85 1285.6,1381.28 1287.1,1381.65 1288.6,1381.95 1290.1,1382.16 1291.5,1382.30 1293.0,1382.43 1294.5,1382.55 1296.0,1382.65 1297.5,1382.75 1299.0,1382.82 1300.5,1382.88 1302.0,1382.92 1303.5,1382.94 1305.0,1382.94 1306.5,1382.94 1308.0,1382.94 1309.5,1382.94 1311.0,1382.94 1312.5,1382.94 1314.0,1382.94 1315.5,1382.94 1317.0,1382.94 1318.5,1382.94 1320.0,1382.94 1321.5,1382.94 1323.0,1382.94 1324.5,1382.94 1326.0,1382.94 1327.5,1382.94 1329.0,1382.94 1330.5,1382.94 1332.0,1382.94 1333.5,1382.94 1335.0,1382.94 1336.5,1382.94 1338.0,1382.94 1339.5,1382.94 1341.0,1382.94 1342.5,1382.94 1344.0,1382.94 1345.5,1382.94 1347.0,1382.94 1348.5,1382.94 1350.0,1382.94 1351.5,1382.94 1353.0,1382.94 1354.5,1382.94 1356.0,1382.94 1357.5,1382.94 1359.0,1382.94 1360.5,1382.94 1362.0,1382.94 1363.5,1382.94 1365.0,1382.94 1366.5,1382.94 1368.0,1382.94 1369.5,1382.94 1371.0,1382.94 1372.5,1382.94 1374.0,1382.94 1375.5,1382.94 1377.0,1382.94 1378.5,1382.94 1380.0,1382.94 1381.5,1382.94 1383.0,1382.94 1384.5,1382.94 1386.0,1382.94 1387.5,1382.94 1389.0,1382.94 1390.5,1382.94 1392.0,1382.94 1393.5,1382.94 1395.0,1382.94 1396.5,1382.94 1398.0,1382.94 1399.5,1382.94 1401.0,1382.94 1402.5,1382.94 1404.0,1382.94 1405.5,1382.94 1407.0,1382.94 1408.5,1382.94 1410.0,1382.94 1411.5,1382.94 1413.0,1382.94 1414.5,1382.94 1416.0,1382.94 1417.5,1382.94 1419.0,1382.94 1420.5,1382.94 1422.0,1382.94 1423.5,1382.94 1425.0,1382.94 1426.5,1382.94 1428.0,1382.94 1429.5,1382.94 1431.0,1382.94 1432.5,1382.94 1434.0,1382.94 1435.5,1382.94 1437.0,1382.94 1438.5,1382.94 1440.0,1382.94 1441.5,1382.94 1443.0,1382.94 1444.5,1382.94 1446.0,1382.94 1447.5,1382.94 1449.0,1382.94 1450.5,1382.94 1452.0,1382.94 1453.5,1382.94 1455.0,1382.94 1456.5,1382.94 1458.0,1382.94 1459.5,1382.94 1461.0,1382.94 1462.5,1382.94 1464.0,1382.94 1465.5,1382.94 1467.0,1382.94 1468.5,1382.94 1470.0,1382.94 1471.5,1382.94 1473.0,1382.94 1474.5,1382.94 1476.0,1382.94 1477.5,1382.94 1479.0,1382.94 1480.5,1382.94 1482.0,1382.94 1483.5,1382.94 1485.0,1382.93 1486.5,1382.93 1488.0,1382.93 1489.5,1382.93 1491.0,1382.93 1492.5,1382.93 1494.0,1382.93 1495.5,1382.93 1497.0,1382.93 1498.5,1382.93 1500.0,1382.93 1501.5,1382.93 1503.0,1382.93 1504.5,1382.93 1506.0,1382.93 1507.5,1382.93 1509.0,1382.93 1510.5,1382.93 1512.0,1382.93 1513.5,1382.93 1515.0,1382.93 1516.5,1382.93 1518.0,1382.93 1519.5,1382.93 1521.0,1382.93 1522.5,1382.93 1524.0,1382.93 1525.5,1382.93 1527.0,1382.93 1528.5,1382.93 1530.0,1382.93 1531.5,1382.93 1533.0,1382.93 1534.5,1382.93 1536.0,1382.93 1537.5,1382.93 1539.0,1382.93 1540.5,1382.93 1542.0,1382.93 1543.5,1382.93 1545.0,1382.93 1546.5,1382.93 1548.0,1382.93 1549.5,1382.93 1551.0,1382.93 1552.5,1382.93 1554.0,1382.93 1555.5,1382.93 1557.0,1382.93 1558.5,1382.93 1560.0,1382.93 1561.5,1382.93 1563.0,1382.93 1564.5,1382.93 1566.0,1382.93 1567.5,1382.93 1569.0,1382.93 1570.5,1382.93 1572.0,1382.93 1573.5,1382.93 1575.0,1382.93 1576.5,1382.93 1578.0,1382.93 1579.5,1382.93 1581.0,1382.93 1582.5,1382.93 1584.0,1382.93 1585.5,1382.93 1587.0,1382.93 1588.5,1382.93 1590.0,1382.93 1591.5,1382.93 1593.0,1382.93 1594.5,1382.93 1596.0,1382.93 1597.5,1382.93 1599.0,1382.93 1600.5,1382.93 1602.0,1382.93 1603.5,1382.93 1605.0,1382.93 1606.5,1382.92 1608.0,1382.92 1609.5,1382.92 1611.0,1382.92 1612.5,1382.92 1614.0,1382.92 1615.5,1382.92 1617.0,1382.92 1618.5,1382.92 1620.0,1382.92 1621.5,1382.92 1623.0,1382.92 1624.5,1382.92 1626.0,1382.92 1627.5,1382.92 1629.0,1382.92 1630.5,1382.92 1632.0,1382.92 1633.5,1382.92 1635.0,1382.92 1636.5,1382.92 1638.0,1382.92 1639.5,1382.92 1641.0,1382.92 1642.5,1382.92 1644.0,1382.92 1645.5,1382.92 1647.0,1382.92 1648.5,1382.92 1650.0,1382.92 1651.5,1382.92 1653.0,1382.92 1654.5,1382.92 1656.0,1382.92 1657.5,1382.92 1659.0,1382.92 1660.5,1382.92 1662.0,1382.92 1663.5,1382.92 1665.0,1382.92 1666.5,1382.92 1668.0,1382.92 1669.5,1382.92 1671.0,1382.92 1672.5,1382.91 1674.0,1382.91 1675.5,1382.91 1677.0,1382.91 1678.5,1382.91 1680.0,1382.91 1681.5,1382.91 1683.0,1382.91 1684.5,1382.91 1686.0,1382.91 1687.5,1382.91 1689.0,1382.91 1690.5,1382.91 1692.0,1382.91 1693.5,1382.91 1695.0,1382.91 1696.5,1382.91 1698.0,1382.91 1699.5,1382.91 1701.0,1382.91 1702.5,1382.91 1704.0,1382.91 1705.5,1382.91 1707.0,1382.91 1708.5,1382.91 1710.0,1382.91 1711.5,1382.91 1713.0,1382.91 1714.5,1382.91 1716.0,1382.91 1717.5,1382.91 1719.0,1382.91 1720.5,1382.91 1722.0,1382.90 1723.5,1382.90 1725.0,1382.90 1726.5,1382.90 1728.0,1382.90 1729.5,1382.90 1731.0,1382.90 1732.5,1382.90 1734.0,1382.90 1735.5,1382.90 1737.0,1382.90 1738.5,1382.90 1740.0,1382.90 1741.5,1382.90 1743.0,1382.90 1744.5,1382.90 1746.0,1382.90 1747.5,1382.90 1749.0,1382.90 1750.5,1382.90 1752.0,1382.90 1753.5,1382.90 1755.0,1382.90 1756.5,1382.90 1758.0,1382.90 1759.5,1382.90 1761.0,1382.89 1762.5,1382.89 1764.0,1382.89 1765.5,1382.89 1767.0,1382.89 1768.5,1382.89 1770.0,1382.89 1771.5,1382.89 1773.0,1382.89 1774.5,1382.89 1776.0,1382.89 1777.5,1382.89 1779.0,1382.89 1780.5,1382.89 1782.0,1382.89 1783.5,1382.89 1785.0,1382.89 1786.5,1382.89 1788.0,1382.89 1789.5,1382.89 1791.0,1382.89 1792.5,1382.89 1794.0,1382.89 1795.5,1382.88 1797.0,1382.88 1798.5,1382.88 1800.0,1382.88 1801.5,1382.88 1803.0,1382.88 1804.5,1382.88 1806.0,1382.88 1807.5,1382.88 1809.0,1382.88 1810.5,1382.88 1812.0,1382.88 1813.5,1382.88 1815.0,1382.88 1816.5,1382.88 1818.0,1382.88 1819.5,1382.88 1821.0,1382.88 1822.5,1382.88 1824.0,1382.88 1825.5,1382.87 1827.0,1382.87 1828.5,1382.87 1830.0,1382.87 1831.5,1382.87 1833.0,1382.87 1834.5,1382.87 1836.0,1382.87 1837.5,1382.87 1839.0,1382.87 1840.5,1382.87 1842.0,1382.87 1843.5,1382.87 1845.0,1382.87 1846.5,1382.87 1848.0,1382.87 1849.5,1382.87 1851.0,1382.86 1852.5,1382.86 1854.0,1382.86 1855.5,1382.86 1857.0,1382.86 1858.5,1382.86 1860.0,1382.86 1861.5,1382.86 1863.0,1382.86 1864.5,1382.86 1866.0,1382.86 1867.5,1382.86 1869.0,1382.86 1870.5,1382.86 1872.0,1382.86 1873.5,1382.86 1875.0,1382.86 1876.5,1382.85 1878.0,1382.85 1879.5,1382.85 1881.0,1382.85 1882.5,1382.85 1884.0,1382.85 1885.5,1382.85 1887.0,1382.85 1888.5,1382.85 1890.0,1382.85 1891.5,1382.85 1893.0,1382.85 1894.5,1382.85 1896.0,1382.85 1897.5,1382.85 1899.0,1382.84 1900.5,1382.84 1902.0,1382.84 1903.5,1382.84 1905.0,1382.84 1906.5,1382.84 1908.0,1382.84 1909.5,1382.84 1911.0,1382.84 1912.5,1382.84 1914.0,1382.84 1915.5,1382.84 1917.0,1382.84 1918.5,1382.84 1920.0,1382.83 1921.5,1382.83 1923.0,1382.83 1924.5,1382.83 1926.0,1382.83 1927.5,1382.83 1929.0,1382.83 1930.5,1382.83 1932.0,1382.83 1933.5,1382.83 1935.0,1382.83 1936.5,1382.83 1938.0,1382.83 1939.5,1382.82 1941.0,1382.82 1942.5,1382.82 1944.0,1382.82 1945.5,1382.82 1947.0,1382.82 1948.5,1382.82 1950.0,1382.82 1951.5,1382.82 1953.0,1382.82 1954.5,1382.82 1956.0,1382.82 1957.5,1382.81 1959.0,1382.81 1960.5,1382.81 1962.0,1382.81 1963.5,1382.81 1965.0,1382.81 1966.5,1382.81 1968.0,1382.81 1969.5,1382.81 1971.0,1382.81 1972.5,1382.81 1974.0,1382.81 1975.5,1382.80 1977.0,1382.80 1978.5,1382.80 1980.0,1382.80 1981.5,1382.80 1983.0,1382.80 1984.5,1382.80 1986.0,1382.80 1987.5,1382.80 1989.0,1382.80 1990.5,1382.80 1992.0,1382.79 1993.5,1382.79 1995.0,1382.79 1996.5,1382.79 1998.0,1382.79 1999.5,1382.79 2001.0,1382.79 2002.5,1382.79 2004.0,1382.79 2005.5,1382.79 2007.0,1382.79 2008.5,1382.78 2010.0,1382.78 2011.5,1382.78 2013.0,1382.78 2014.5,1382.78 2016.0,1382.78 2017.5,1382.78 2019.0,1382.78 2020.5,1382.77 2022.1,1382.66 2023.6,1382.39 2025.1,1381.99 2026.6,1381.48 2028.2,1380.89 2029.7,1380.26 2031.2,1379.60 2032.7,1378.85 2034.2,1377.91 2035.8,1376.78 2037.3,1375.51 2038.8,1374.09 2040.3,1372.51 2041.9,1370.58 2043.4,1368.32 2044.9,1365.85 2046.4,1363.27 2047.9,1360.69 2049.4,1358.03 2050.9,1355.17 2052.4,1352.24 2053.9,1349.37 2055.4,1346.68 2056.9,1344.24 2058.4,1341.88 2059.9,1339.61 2061.4,1337.50 2062.8,1335.62 2064.3,1334.02 2065.8,1332.57 2067.3,1331.21 2068.7,1330.08 2070.2,1329.30 2071.6,1328.92 2073.1,1328.69 2074.6,1328.58 2076.1,1328.72 2077.7,1329.21 2079.2,1329.99 2080.8,1330.98 2082.3,1332.10 2083.8,1333.35 2085.3,1335.09 2086.9,1337.33 2088.4,1339.89 2089.9,1342.58 2091.4,1345.22 2092.9,1347.90 2094.4,1350.80 2095.9,1353.77 2097.4,1356.66 2098.9,1359.30 2100.4,1361.61 2101.9,1363.82 2103.4,1365.92 2104.8,1367.83 2106.3,1369.44 2107.8,1370.67 2109.2,1371.64 2110.7,1372.50 2112.2,1373.24 2113.6,1373.84 2115.1,1374.30 2116.6,1374.63 2118.1,1374.91 2119.5,1375.12 2121.0,1375.20 2122.6,1375.04 2124.1,1374.60 2125.7,1373.95 2127.2,1373.17 2128.7,1372.35 2130.2,1371.49 2131.8,1370.45 2133.3,1369.24 2134.8,1367.96 2136.3,1366.71 2137.8,1365.59 2139.3,1364.55 2140.7,1363.52 2142.2,1362.53 2143.7,1361.64 2145.2,1360.86 2146.7,1360.20 2148.2,1359.55 2149.7,1358.93 2151.1,1358.40 2152.6,1358.02 2154.1,1357.85 2155.6,1357.96 2157.1,1358.38 2158.7,1359.06 2160.2,1359.93 2161.7,1360.92 2163.3,1361.96 2164.8,1363.00 2166.3,1364.12 2167.8,1365.44 2169.3,1366.91 2170.8,1368.42 2172.3,1369.89 2173.8,1371.28 2175.3,1372.69 2176.8,1374.11 2178.3,1375.46 2179.8,1376.69 2181.2,1377.72 2182.7,1378.61 2184.2,1379.43 2185.7,1380.18 2187.2,1380.82 2188.6,1381.33 2190.1,1381.72 2191.6,1382.07 2193.1,1382.41 2194.6,1382.71 2196.1,1382.96 2197.5,1383.14 2199.0,1383.25 2200.5,1383.28 2202.0,1383.28 2203.5,1383.28 2205.0,1383.28 2206.5,1383.28 2208.0,1383.28 2209.5,1383.28 2211.0,1383.28 2212.5,1383.28 2214.0,1383.28 2215.5,1383.28 2217.0,1383.28 2218.5,1383.28 2220.0,1383.28 2221.5,1383.28 2223.0,1383.28 2224.5,1383.28 2226.0,1383.28 2227.5,1383.28 2229.0,1383.28 2230.5,1383.28 2232.0,1383.28 2233.5,1383.28 2235.0,1383.28 2236.5,1383.28 2238.0,1383.28 2239.5,1383.28 2241.0,1383.28 2242.5,1383.28 2244.0,1383.28"/>
<path stroke="#008000" stroke-width="7.9" d="M330.2,1270.88 331.7,1271.51 333.2,1272.23 334.7,1273.03 336.2,1273.96 337.7,1274.86 339.1,1275.57 340.6,1275.92 342.2,1275.67 343.8,1274.67 345.3,1273.06 346.9,1271.00 348.4,1268.66 349.9,1266.20 351.4,1263.65 352.9,1260.51 354.4,1256.78 355.9,1252.74 357.4,1248.64 358.9,1244.73 360.4,1240.94 361.9,1237.07 363.4,1233.23 364.9,1229.50 366.4,1226.01 367.9,1222.78 369.4,1219.67 370.9,1216.68 372.4,1213.89 373.9,1211.36 375.4,1209.15 376.9,1207.15 378.3,1205.26 379.8,1203.50 381.3,1201.93 382.8,1200.57 384.2,1199.48 385.7,1198.62 387.2,1197.89 388.7,1197.25 390.1,1196.68 391.6,1196.18 393.1,1195.71 394.6,1195.27 396.1,1194.91 397.6,1194.60 399.1,1194.33 400.6,1194.05 402.1,1193.73 403.6,1193.33 405.2,1192.83 406.7,1192.08 408.3,1191.04 409.8,1189.80 411.3,1188.44 412.8,1187.03 414.3,1185.67 415.8,1184.29 417.3,1182.74 418.8,1181.15 420.3,1179.66 421.8,1178.43 423.2,1177.55 424.7,1176.82 426.2,1176.15 427.6,1175.59 429.1,1175.20 430.6,1175.04 432.1,1175.28 433.7,1176.07 435.3,1177.29 436.8,1178.82 438.3,1180.52 439.9,1182.40 441.4,1184.94 442.9,1188.08 444.4,1191.53 445.9,1194.98 447.4,1198.44 448.9,1202.12 450.4,1205.86 451.9,1209.50 453.4,1212.92 454.9,1216.29 456.4,1219.58 457.9,1222.61 459.4,1225.19 460.9,1227.35 462.3,1229.32 463.8,1231.06 465.3,1232.45 466.7,1233.46 468.2,1234.29 469.7,1235.03 471.1,1235.62 472.6,1236.00 474.1,1236.10 475.6,1235.91 477.1,1235.47 478.7,1234.85 480.2,1234.11 481.7,1233.31 483.2,1232.52 484.7,1231.79 486.2,1231.16 487.7,1230.59 489.2,1230.05 490.7,1229.50 492.2,1228.91 493.7,1228.27 495.2,1227.53 496.7,1226.68 498.3,1225.63 499.8,1224.39 501.3,1222.96 502.8,1221.38 504.3,1219.66 505.9,1217.68 507.4,1215.30 508.9,1212.64 510.4,1209.87 511.9,1207.12 513.4,1204.50 514.9,1201.80 516.4,1199.04 517.9,1196.36 519.4,1193.90 520.9,1191.77 522.3,1189.95 523.8,1188.32 525.3,1186.92 526.8,1185.74 528.2,1184.62 529.7,1183.72 531.1,1183.38 532.7,1183.71 534.2,1184.56 535.8,1185.73 537.3,1187.03 538.8,1188.29 540.3,1189.35 541.8,1190.43 543.3,1191.60 544.7,1192.74 546.2,1193.73 547.6,1194.43 549.1,1194.73 550.7,1194.40 552.3,1193.36 553.8,1191.79 555.4,1189.86 556.9,1187.78 558.4,1185.58 559.9,1182.78 561.4,1179.44 562.9,1175.84 564.4,1172.27 565.9,1169.01 567.4,1165.99 568.9,1163.01 570.4,1160.12 571.9,1157.39 573.4,1154.89 574.9,1152.66 576.4,1150.64 577.8,1148.78 579.3,1147.01 580.8,1145.29 582.3,1143.58 583.8,1141.98 585.3,1140.50 586.8,1139.02 588.3,1137.43 589.9,1135.61 591.4,1133.43 592.9,1130.83 594.4,1127.88 595.9,1124.68 597.4,1121.30 598.9,1117.79 600.4,1113.96 601.9,1109.79 603.4,1105.44 604.9,1101.07 606.4,1096.84 607.9,1092.66 609.4,1088.30 610.9,1084.10 612.4,1080.45 613.9,1077.70 615.4,1075.59 616.8,1073.84 618.3,1072.40 619.8,1071.15 621.2,1070.01 622.7,1069.43 624.2,1069.73 625.8,1070.83 627.3,1072.51 628.9,1074.57 630.4,1076.83 631.9,1079.23 633.4,1082.31 634.9,1086.03 636.4,1090.12 637.9,1094.27 639.4,1098.20 640.9,1101.95 642.4,1105.73 643.9,1109.50 645.4,1113.22 646.9,1116.82 648.4,1120.32 649.9,1123.82 651.4,1127.27 652.9,1130.57 654.4,1133.62 655.9,1136.34 657.4,1138.86 658.9,1141.28 660.4,1143.51 661.8,1145.45 663.3,1147.02 664.8,1148.24 666.3,1149.38 667.7,1150.40 669.2,1151.21 670.6,1151.73 672.1,1151.86 673.7,1151.47 675.2,1150.57 676.8,1149.28 678.3,1147.69 679.8,1145.92 681.4,1144.05 682.9,1141.88 684.4,1139.07 685.9,1135.75 687.4,1132.12 688.9,1128.39 690.4,1124.66 691.9,1120.73 693.4,1116.56 694.9,1112.26 696.4,1107.93 697.9,1103.68 699.4,1099.47 700.9,1095.23 702.4,1091.00 703.9,1086.82 705.4,1082.74 706.9,1078.79 708.4,1074.87 709.9,1071.01 711.4,1067.27 712.9,1063.72 714.4,1060.41 715.9,1057.24 717.4,1054.17 718.9,1051.26 720.4,1048.59 721.9,1046.25 723.4,1044.25 724.8,1042.44 726.3,1040.82 727.8,1039.43 729.3,1038.28 730.7,1037.24 732.2,1036.29 733.6,1035.60 735.1,1035.37 736.7,1035.88 738.3,1037.15 739.8,1038.98 741.4,1041.12 742.9,1043.37 744.4,1045.54 745.9,1047.86 747.4,1050.51 748.9,1053.30 750.4,1056.01 751.9,1058.43 753.4,1060.48 754.8,1062.38 756.3,1064.12 757.8,1065.65 759.3,1066.91 760.7,1068.07 762.2,1068.95 763.7,1069.06 765.3,1068.13 766.8,1066.33 768.4,1063.91 769.9,1061.14 771.4,1058.23 772.9,1054.90 774.4,1050.73 775.9,1045.97 777.4,1040.97 778.9,1035.95 780.4,1030.80 781.9,1025.37 783.4,1019.65 784.9,1013.60 786.4,1006.75 787.9,999.34 789.4,993.09 790.9,988.16 792.4,983.87 793.9,980.19 795.4,977.05 796.9,974.24 798.4,971.83 799.8,969.91 801.3,968.34 802.8,966.93 804.2,965.95 805.7,965.72 807.2,966.47 808.8,968.06 810.4,970.20 811.9,972.64 813.4,975.51 814.9,979.43 816.4,984.15 817.9,989.24 819.4,994.33 820.9,999.73 822.4,1005.54 823.9,1011.36 825.4,1016.80 826.9,1021.76 828.4,1026.74 829.9,1031.57 831.4,1035.90 832.9,1039.39 834.4,1041.78 835.8,1043.58 837.3,1045.22 838.8,1046.65 840.2,1047.78 841.7,1048.55 843.1,1048.89 844.7,1048.67 846.2,1047.83 847.8,1046.45 849.3,1044.67 850.9,1042.58 852.4,1040.30 853.9,1037.77 855.4,1034.40 856.9,1030.14 858.4,1025.17 859.9,1019.65 861.4,1013.75 862.9,1007.19 864.4,999.60 865.9,991.01 867.4,981.45 868.9,970.59 870.4,957.36 871.9,942.66 873.4,928.00 874.9,914.25 876.4,900.81 877.9,886.92 879.4,871.90 880.9,855.28 882.4,837.59 883.9,819.69 885.4,801.65 886.9,782.52 888.4,764.39 889.9,750.09 891.4,740.79 892.9,732.18 894.4,719.13 895.9,703.94 897.4,692.18 898.9,683.64 900.4,676.52 901.9,670.83 903.4,666.40 904.9,662.63 906.4,659.61 907.8,657.59 909.3,656.26 910.7,655.15 912.2,654.31 913.6,653.82 915.2,653.89 916.8,654.99 918.4,656.98 919.9,659.53 921.4,662.30 922.9,664.96 924.4,667.69 925.9,670.78 927.4,674.03 928.9,677.23 930.4,680.16 931.9,682.72 933.4,685.16 934.9,687.50 936.4,689.62 937.8,691.44 939.3,692.86 940.8,694.09 942.2,695.20 943.7,696.02 945.2,696.36 946.7,695.77 948.3,693.96 949.9,691.20 951.4,687.77 952.9,683.88 954.4,678.50 955.9,670.95 957.4,662.09 958.9,652.58 960.4,641.68 961.9,629.50 963.4,616.75 964.9,603.54 966.4,589.47 967.9,575.23 969.4,561.59 970.9,548.49 972.4,535.74 973.9,523.62 975.4,512.21 976.9,501.23 978.4,491.87 979.9,484.67 981.4,478.78 982.9,474.65 984.4,471.73 985.8,469.43 987.3,468.28 988.8,468.99 990.4,471.83 991.9,476.10 993.4,481.06 994.9,487.01 996.4,495.02 997.9,504.27 999.4,513.77 1000.9,523.79 1002.4,534.46 1003.9,545.14 1005.4,555.44 1006.9,565.79 1008.4,575.72 1009.9,584.52 1011.4,592.17 1012.9,598.86 1014.4,603.82 1015.9,607.74 1017.3,610.85 1018.8,612.28 1020.3,611.32 1021.9,608.24 1023.4,603.81 1024.9,598.76 1026.4,592.56 1027.9,584.34 1029.4,575.02 1030.9,565.52 1032.4,555.46 1033.9,544.80 1035.4,534.10 1036.9,523.40 1038.4,512.51 1039.9,503.30 1041.4,496.26 1042.9,490.57 1044.4,486.82 1045.8,484.27 1047.3,482.62 1048.8,482.64 1050.3,484.82 1051.9,488.75 1053.4,493.81 1054.9,499.46 1056.4,506.66 1057.9,516.36 1059.4,527.30 1060.9,538.26 1062.4,549.55 1063.9,561.44 1065.4,573.73 1066.9,586.48 1068.4,599.94 1069.9,613.44 1071.4,626.17 1072.9,638.25 1074.4,649.87 1075.9,660.48 1077.4,669.66 1078.9,677.93 1080.4,685.50 1081.9,692.30 1083.4,698.23 1084.9,703.48 1086.4,708.33 1087.9,712.75 1089.4,716.68 1090.9,720.04 1092.4,722.86 1093.9,725.56 1095.4,728.18 1096.9,730.56 1098.3,732.56 1099.7,734.04 1101.2,734.84 1102.7,734.78 1104.3,733.66 1105.9,731.66 1107.4,729.01 1108.9,725.96 1110.4,722.75 1111.9,719.14 1113.4,714.48 1114.9,709.11 1116.4,703.56 1117.9,698.30 1119.4,693.15 1120.9,687.94 1122.4,682.86 1123.9,678.11 1125.4,673.67 1126.9,669.29 1128.4,665.42 1129.9,662.60 1131.3,660.54 1132.8,658.74 1134.2,657.42 1135.7,656.81 1137.2,657.31 1138.8,659.07 1140.4,661.77 1141.9,665.04 1143.4,668.53 1144.9,672.50 1146.4,677.47 1147.9,683.30 1149.4,689.76 1150.9,696.82 1152.4,705.15 1153.9,714.51 1155.4,724.27 1156.9,734.20 1158.4,744.59 1159.9,755.22 1161.4,765.74 1162.9,776.01 1164.4,786.24 1165.9,796.77 1167.4,807.90 1168.9,819.68 1170.4,831.90 1171.9,844.50 1173.4,857.51 1174.9,870.64 1176.4,883.85 1177.9,897.16 1179.4,910.35 1180.9,923.30 1182.4,936.18 1183.9,948.81 1185.4,960.83 1186.9,972.18 1188.4,983.07 1189.9,993.27 1191.4,1002.54 1192.9,1011.14 1194.4,1019.09 1195.9,1026.06 1197.4,1032.07 1198.9,1038.02 1200.4,1043.44 1201.8,1047.38 1203.3,1048.96 1204.8,1047.66 1206.4,1044.00 1207.9,1038.74 1209.4,1032.67 1210.9,1026.08 1212.4,1017.59 1213.9,1007.33 1215.4,996.11 1216.9,983.93 1218.4,970.23 1219.9,955.65 1221.4,940.97 1222.9,926.33 1224.4,911.31 1225.9,895.53 1227.4,878.32 1228.9,859.35 1230.4,840.86 1231.9,824.67 1233.4,809.95 1234.9,795.22 1236.4,779.02 1237.9,760.32 1239.4,741.33 1240.9,724.89 1242.4,710.52 1243.9,697.40 1245.4,684.81 1246.9,672.92 1248.4,663.84 1249.9,657.04 1251.4,651.26 1252.8,647.57 1254.3,646.97 1255.8,648.95 1257.4,652.65 1258.9,657.49 1260.4,664.73 1261.9,676.17 1263.4,689.38 1264.9,703.84 1266.4,720.05 1267.9,736.87 1269.4,753.66 1270.9,773.00 1272.4,800.52 1273.9,837.23 1275.4,867.95 1276.9,891.60 1278.4,914.09 1279.9,937.24 1281.4,960.35 1282.9,983.61 1284.4,1007.41 1285.9,1030.37 1287.4,1051.11 1288.9,1070.17 1290.4,1087.44 1291.9,1103.23 1293.4,1117.49 1294.9,1128.85 1296.4,1138.73 1297.9,1146.63 1299.3,1149.71 1300.9,1147.93 1302.4,1143.34 1303.9,1136.94 1305.4,1129.64 1306.9,1121.10 1308.4,1109.62 1309.9,1095.96 1311.4,1081.31 1312.9,1065.85 1314.4,1048.61 1315.9,1030.50 1317.4,1012.64 1318.9,994.94 1320.4,977.19 1321.9,960.03 1323.4,943.84 1324.9,928.09 1326.4,913.37 1327.9,900.62 1329.4,889.23 1330.9,879.03 1332.4,871.74 1333.9,867.52 1335.4,864.18 1336.8,861.57 1338.3,859.94 1339.7,859.58 1341.3,860.99 1342.9,863.91 1344.4,867.65 1345.9,871.50 1347.4,875.18 1348.9,879.26 1350.4,883.65 1351.9,888.10 1353.4,892.35 1354.9,896.22 1356.4,900.00 1357.9,903.79 1359.4,907.32 1360.9,910.36 1362.4,912.65 1363.8,914.31 1365.3,915.79 1366.7,916.99 1368.2,917.77 1369.7,917.92 1371.3,917.14 1372.8,915.50 1374.4,913.28 1375.9,910.77 1377.4,908.25 1378.9,905.56 1380.4,902.35 1381.9,898.82 1383.4,895.28 1384.9,891.99 1386.4,889.13 1387.9,886.39 1389.4,883.72 1390.9,881.28 1392.3,879.23 1393.8,877.69 1395.3,876.51 1396.7,875.42 1398.2,874.47 1399.7,873.72 1401.1,873.25 1402.7,873.17 1404.3,874.06 1405.8,876.06 1407.4,878.81 1408.9,881.98 1410.4,885.89 1411.9,891.32 1413.4,897.92 1414.9,905.21 1416.4,913.70 1417.9,923.58 1419.4,933.77 1420.9,944.10 1422.4,954.66 1423.9,964.97 1425.4,974.98 1426.9,984.78 1428.4,994.30 1429.9,1003.59 1431.4,1012.61 1432.9,1021.24 1434.4,1029.58 1435.9,1037.51 1437.4,1044.52 1438.9,1050.57 1440.4,1056.02 1441.9,1061.12 1443.4,1066.11 1444.9,1071.22 1446.4,1076.75 1447.9,1082.70 1449.4,1088.51 1450.9,1093.56 1452.4,1097.47 1453.9,1100.87 1455.4,1103.82 1456.8,1106.06 1458.3,1107.45 1459.7,1108.36 1461.2,1109.08 1462.7,1109.66 1464.1,1110.16 1465.6,1110.61 1467.1,1110.99 1468.6,1111.32 1470.1,1111.63 1471.6,1111.96 1473.1,1112.34 1474.6,1112.85 1476.1,1113.42 1477.6,1113.96 1479.1,1114.37 1480.6,1114.55 1482.2,1114.26 1483.7,1113.36 1485.3,1112.04 1486.8,1110.56 1488.3,1109.16 1489.8,1107.96 1491.3,1106.74 1492.7,1105.60 1494.2,1104.78 1495.6,1104.33 1497.1,1104.02 1498.6,1103.93 1500.2,1104.44 1501.8,1105.71 1503.3,1107.55 1504.9,1109.79 1506.4,1112.60 1507.9,1116.98 1509.4,1122.70 1510.9,1129.16 1512.4,1136.38 1513.9,1145.01 1515.4,1154.41 1516.9,1164.16 1518.4,1174.51 1519.9,1185.43 1521.4,1197.02 1522.9,1209.21 1524.4,1221.42 1525.9,1233.58 1527.4,1245.62 1528.9,1257.25 1530.4,1268.51 1531.9,1279.43 1533.4,1290.09 1534.9,1300.48 1536.4,1310.09 1537.9,1318.91 1539.4,1327.15 1540.9,1334.70 1542.4,1341.57 1543.9,1347.99 1545.4,1353.73 1546.9,1358.44 1548.4,1362.40 1549.9,1365.92 1551.4,1368.93 1552.9,1371.37 1554.3,1373.35 1555.8,1375.14 1557.3,1376.72 1558.8,1378.03 1560.2,1379.01 1561.7,1379.64 1563.1,1380.13 1564.6,1380.57 1566.1,1380.97 1567.6,1381.31 1569.1,1381.59 1570.6,1381.81 1572.0,1381.95 1573.5,1382.01 1575.0,1381.99 1576.5,1381.89 1578.1,1381.71 1579.6,1381.47 1581.1,1381.16 1582.6,1380.81 1584.1,1380.40 1585.6,1379.95 1587.2,1379.46 1588.7,1378.77 1590.3,1377.76 1591.8,1376.47 1593.3,1374.97 1594.8,1373.29 1596.4,1371.46 1597.9,1369.25 1599.4,1366.55 1600.9,1363.42 1602.4,1359.88 1603.9,1355.88 1605.4,1351.08 1606.9,1345.35 1608.4,1338.62 1609.9,1330.07 1611.4,1319.50 1612.9,1308.31 1614.4,1296.74 1615.9,1284.48 1617.4,1271.58 1618.9,1257.96 1620.4,1243.67 1621.9,1228.53 1623.4,1212.58 1624.9,1196.80 1626.4,1181.34 1627.9,1166.39 1629.4,1152.97 1630.9,1140.86 1632.4,1129.68 1633.9,1119.48 1635.4,1110.11 1636.9,1101.33 1638.4,1093.55 1639.9,1087.23 1641.4,1081.93 1642.9,1077.40 1644.4,1073.90 1645.9,1071.25 1647.3,1069.06 1648.7,1067.98 1650.3,1068.62 1651.9,1070.86 1653.4,1074.11 1654.9,1078.64 1656.4,1085.95 1657.9,1094.50 1659.4,1103.35 1660.9,1112.87 1662.4,1122.06 1663.9,1130.66 1665.4,1138.91 1666.9,1146.88 1668.4,1154.70 1669.9,1161.80 1671.4,1167.81 1672.9,1173.25 1674.4,1177.96 1675.9,1181.65 1677.4,1184.60 1678.9,1187.19 1680.3,1189.35 1681.8,1191.00 1683.2,1192.12 1684.7,1192.88 1686.2,1193.45 1687.7,1193.99 1689.2,1194.62 1690.8,1195.51 1692.3,1196.77 1693.8,1198.44 1695.4,1200.46 1696.9,1202.86 1698.4,1205.99 1699.9,1209.68 1701.4,1213.55 1702.9,1217.54 1704.4,1221.81 1705.9,1226.09 1707.4,1230.11 1708.9,1234.12 1710.4,1237.98 1711.9,1241.02 1713.3,1242.95 1714.8,1244.48 1716.2,1245.75 1717.7,1246.61 1719.2,1246.91 1720.8,1246.24 1722.3,1244.43 1723.9,1241.74 1725.4,1238.45 1726.9,1234.79 1728.4,1230.01 1729.9,1223.40 1731.4,1215.70 1732.9,1206.80 1734.4,1196.35 1735.9,1185.51 1737.4,1174.54 1738.9,1163.31 1740.4,1152.04 1741.9,1140.54 1743.4,1129.61 1744.9,1120.09 1746.4,1111.57 1747.9,1103.55 1749.4,1095.61 1750.9,1087.44 1752.4,1079.42 1753.9,1072.24 1755.4,1066.19 1756.9,1060.79 1758.4,1055.84 1759.9,1051.23 1761.4,1046.82 1762.9,1042.53 1764.4,1038.39 1765.9,1034.44 1767.4,1030.70 1768.9,1027.19 1770.4,1023.90 1771.9,1020.66 1773.4,1017.53 1774.9,1014.65 1776.4,1012.16 1777.8,1010.17 1779.3,1008.51 1780.8,1006.91 1782.3,1005.44 1783.8,1004.18 1785.2,1003.21 1786.6,1002.62 1788.1,1002.52 1789.7,1003.17 1791.3,1004.50 1792.8,1006.26 1794.3,1008.19 1795.8,1010.04 1797.3,1011.64 1798.8,1013.26 1800.3,1014.93 1801.8,1016.38 1803.2,1017.36 1804.6,1017.85 1806.1,1018.17 1807.6,1018.29 1809.2,1017.93 1810.8,1016.98 1812.3,1015.58 1813.8,1013.89 1815.3,1012.08 1816.9,1010.20 1818.4,1007.95 1819.9,1005.27 1821.4,1002.15 1822.9,998.58 1824.4,994.14 1825.9,988.64 1827.4,982.49 1828.9,975.95 1830.4,968.71 1831.9,960.86 1833.4,952.81 1834.9,944.71 1836.4,936.39 1837.9,927.96 1839.4,919.53 1840.9,910.83 1842.4,902.07 1843.9,894.00 1845.4,887.07 1846.9,880.78 1848.4,875.20 1849.9,870.68 1851.4,867.18 1852.9,864.35 1854.3,862.28 1855.8,860.65 1857.2,859.51 1858.7,859.50 1860.3,861.22 1861.9,864.28 1863.4,868.29 1864.9,874.89 1866.4,883.86 1867.9,893.60 1869.4,904.61 1870.9,916.63 1872.4,929.54 1873.9,943.58 1875.4,957.80 1876.9,971.17 1878.4,983.83 1879.9,996.85 1881.4,1011.38 1882.9,1027.92 1884.4,1046.89 1885.9,1068.23 1887.4,1087.61 1888.9,1104.24 1890.4,1119.36 1891.9,1133.43 1893.4,1146.78 1894.9,1159.19 1896.4,1170.39 1897.9,1180.84 1899.4,1190.63 1900.9,1198.51 1902.4,1203.72 1903.9,1207.93 1905.4,1211.54 1906.8,1214.24 1908.3,1215.69 1909.8,1215.44 1911.4,1213.09 1912.9,1209.15 1914.4,1204.28 1915.9,1199.10 1917.4,1193.00 1918.9,1185.42 1920.4,1176.92 1921.9,1167.92 1923.4,1157.90 1924.9,1147.13 1926.4,1136.32 1927.9,1125.80 1929.4,1115.28 1930.9,1104.84 1932.4,1094.62 1933.9,1084.40 1935.4,1074.31 1936.9,1064.95 1938.4,1056.63 1939.9,1048.95 1941.4,1042.00 1942.9,1036.11 1944.4,1031.15 1945.9,1026.69 1947.4,1022.77 1948.9,1019.50 1950.4,1016.94 1951.8,1014.88 1953.3,1013.16 1954.8,1011.75 1956.3,1010.51 1957.7,1009.33 1959.2,1008.45 1960.7,1008.15 1962.3,1008.87 1963.8,1010.65 1965.4,1013.19 1966.9,1016.16 1968.4,1019.61 1969.9,1024.47 1971.4,1030.48 1972.9,1037.07 1974.4,1044.14 1975.9,1052.10 1977.4,1060.95 1978.9,1070.83 1980.4,1082.46 1981.9,1095.03 1983.4,1107.29 1984.9,1119.45 1986.4,1131.37 1987.9,1142.94 1989.4,1154.18 1990.9,1164.73 1992.4,1174.73 1993.9,1183.93 1995.4,1191.71 1996.9,1198.51 1998.4,1203.94 1999.9,1207.72 2001.4,1211.00 2002.8,1213.72 2004.3,1215.54 2005.7,1216.10 2007.3,1215.02 2008.9,1212.42 2010.4,1208.65 2011.9,1204.09 2013.4,1199.02 2014.9,1192.11 2016.4,1182.75 2017.9,1172.19 2019.4,1160.45 2020.9,1147.17 2022.4,1133.28 2023.9,1118.91 2025.4,1103.84 2026.9,1088.14 2028.4,1071.72 2029.9,1054.61 2031.4,1036.36 2032.9,1017.24 2034.4,999.55 2035.9,983.83 2037.4,969.28 2038.9,955.95 2040.4,943.56 2041.9,932.21 2043.4,924.18 2044.9,918.24 2046.3,913.74 2047.8,911.85 2049.3,912.78 2050.9,915.50 2052.4,919.25 2053.9,924.48 2055.4,932.56 2056.9,941.97 2058.4,951.40 2059.9,961.42 2061.4,971.95 2062.9,982.66 2064.4,993.60 2065.9,1004.80 2067.4,1016.03 2068.9,1027.10 2070.4,1038.13 2071.9,1049.10 2073.4,1059.92 2074.9,1070.81 2076.4,1081.88 2077.9,1092.36 2079.4,1101.42 2080.9,1109.09 2082.4,1115.94 2083.9,1122.27 2085.4,1128.34 2086.9,1134.34 2088.4,1140.14 2089.9,1145.72 2091.4,1151.11 2092.9,1156.34 2094.4,1161.46 2095.9,1166.47 2097.4,1171.31 2098.9,1175.90 2100.4,1180.21 2101.9,1184.41 2103.4,1188.46 2104.9,1192.18 2106.4,1195.42 2107.9,1198.13 2109.4,1200.60 2110.9,1202.81 2112.3,1204.66 2113.8,1206.07 2115.2,1207.14 2116.7,1208.08 2118.1,1208.79 2119.6,1209.10 2121.2,1208.71 2122.8,1207.47 2124.3,1205.66 2125.9,1203.58 2127.4,1201.56 2128.8,1199.79 2130.3,1197.99 2131.8,1196.16 2133.3,1194.47 2134.8,1193.08 2136.3,1191.92 2137.7,1190.88 2139.2,1190.26 2140.7,1190.53 2142.3,1192.18 2143.9,1194.83 2145.4,1197.94 2146.9,1201.33 2148.4,1205.61 2149.9,1210.79 2151.4,1216.73 2152.9,1224.05 2154.4,1232.76 2155.9,1241.73 2157.4,1250.90 2158.9,1260.28 2160.4,1269.63 2161.9,1279.01 2163.4,1288.15 2164.9,1296.90 2166.4,1305.31 2167.9,1313.21 2169.4,1320.71 2170.9,1327.85 2172.4,1334.46 2173.9,1340.45 2175.4,1346.09 2176.9,1351.37 2178.4,1356.12 2179.9,1360.20 2181.4,1363.76 2182.9,1367.08 2184.4,1370.09 2185.9,1372.69 2187.3,1374.79 2188.8,1376.38 2190.3,1377.77 2191.8,1379.02 2193.2,1380.12 2194.7,1381.01 2196.1,1381.66 2197.6,1382.04 2199.1,1382.29 2200.6,1382.51 2202.1,1382.70 2203.5,1382.87 2205.0,1383.02 2206.5,1383.13 2208.0,1383.21 2209.5,1383.26 2211.0,1383.28 2212.5,1383.28 2214.0,1383.28 2215.5,1383.28 2217.0,1383.28 2218.5,1383.28 2220.0,1383.28 2221.5,1383.28 2223.0,1383.28 2224.5,1383.28 2226.0,1383.28 2227.5,1383.28 2229.0,1383.28 2230.5,1383.28 2232.0,1383.28 2233.5,1383.28 2235.0,1383.28 2236.5,1383.28 2238.0,1383.28 2239.5,1383.28 2241.0,1383.28 2242.5,1383.28 2244.0,1383.28"/>
</g></g>
<g fill="none" stroke-linecap="round">
<line x1="1892.5" y1="152.3" x2="2027.5" y2="152.3" stroke="#000000" stroke-width="9.3"/>
<line x1="1892.0" y1="226.9" x2="2028.0" y2="226.9" stroke="#ff0000" stroke-width="8.3"/>
<line x1="1892.0" y1="301.8" x2="2028.0" y2="301.8" stroke="#0000ff" stroke-width="8.3"/>
<line x1="1892.0" y1="376.8" x2="2028.0" y2="376.8" stroke="#ff00ff" stroke-width="8.3"/>
<line x1="1892.0" y1="451.7" x2="2028.0" y2="451.7" stroke="#008000" stroke-width="8.3"/>
</g>
<text class="lg" x="2045" y="171.9">Total</text>
<text class="lg" x="2041.6" y="246.9">N<tspan dy="4.6">_</tspan><tspan dy="-4.6">s</tspan></text>
<text class="lg" x="2041.6" y="321.8">N<tspan dy="4.6">_</tspan><tspan dy="-4.6">p</tspan></text>
<text class="lg" x="2043.8" y="397.4">C<tspan dy="4.6">_</tspan><tspan dy="-4.6">s</tspan></text>
<text class="lg" x="2043.8" y="471.9">C<tspan dy="4.6">_</tspan><tspan dy="-4.6">p</tspan></text>
<text class="tk" x="303.2" y="1508.9" text-anchor="end">0</text>
<text class="tk" x="303.2" y="1223.7" text-anchor="end">100</text>
<text class="tk" x="303.2" y="938.5" text-anchor="end">200</text>
<text class="tk" x="303.2" y="653.3" text-anchor="end">300</text>
<text class="tk" x="303.2" y="368.1" text-anchor="end">400</text>
<text class="tk" x="303.2" y="82.9" text-anchor="end">500</text>
<text class="tx" x="345.2" y="1583.4" text-anchor="middle">–0.6</text>
<text class="tx" x="792.0" y="1589.9" text-anchor="middle">–0.4</text>
<text class="tx" x="1282.0" y="1589.9" text-anchor="middle">0.0</text>
<text class="tx" x="1766.2" y="1585.5" text-anchor="middle">0.2</text>
<text class="tx" x="2243.5" y="1581.7" text-anchor="middle">0.4</text>
<text class="ax" x="1277" y="1715" text-anchor="middle" style="letter-spacing:-0.9px">Energy (Ha)</text>
<text class="ax" transform="translate(102,830.5) rotate(-90)" text-anchor="middle" style="letter-spacing:-0.9px">DOS (electrons/Ha)</text>
</svg>
</body></html>
